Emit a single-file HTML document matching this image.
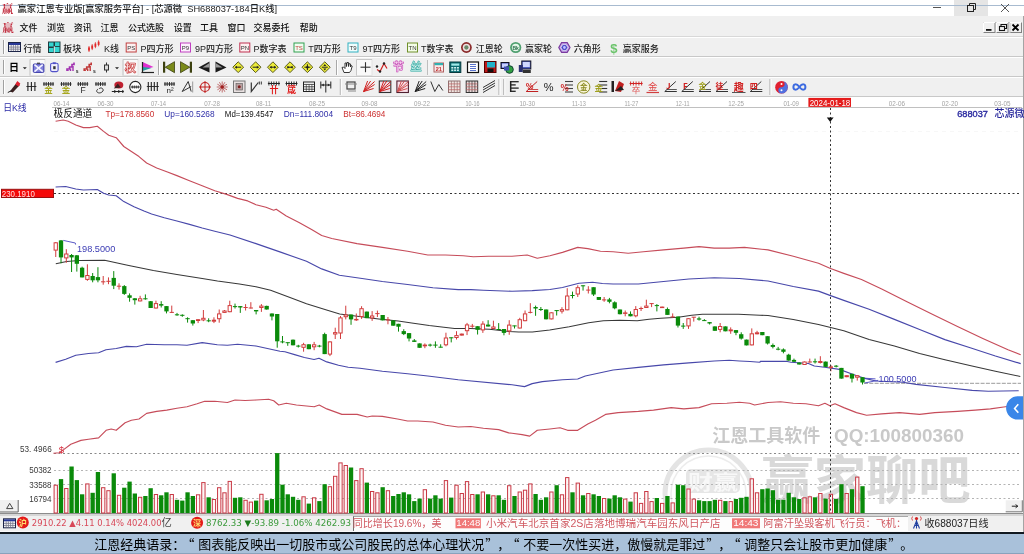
<!DOCTYPE html><html><head><meta charset="utf-8"><style>
*{margin:0;padding:0;box-sizing:border-box}
html,body{width:1024px;height:554px;overflow:hidden;background:#fff}
body{position:relative;font-family:"Liberation Sans","Noto Sans CJK SC",sans-serif}
.t{position:absolute;white-space:nowrap;line-height:1}
svg{position:absolute;left:0;top:0}
</style></head><body>
<div style="position:absolute;left:0px;top:0px;width:1024px;height:16px;background:#fff"></div>
<div style="position:absolute;left:954px;top:0px;width:34px;height:16px;background:#e5e5e5"></div>
<div style="position:absolute;left:0px;top:5px;width:1024px;height:1px;background:#a8bbd0"></div>
<div style="position:absolute;left:0px;top:16px;width:1024px;height:21px;background:#f0f0f0"></div>
<div style="position:absolute;left:0px;top:36px;width:1024px;height:1px;background:#d8d8d8"></div>
<div style="position:absolute;left:0px;top:37px;width:1024px;height:20px;background:#f0f0f0;border-top:1px solid #fff;border-bottom:1px solid #c8c8c8"></div>
<div style="position:absolute;left:3px;top:40px;width:2px;height:14px;border-left:1px solid #a0a0a0;border-right:1px solid #fff"></div>
<div style="position:absolute;left:0px;top:57px;width:1024px;height:20px;background:#f0f0f0;border-top:1px solid #fff;border-bottom:1px solid #c8c8c8"></div>
<div style="position:absolute;left:3px;top:60px;width:2px;height:14px;border-left:1px solid #a0a0a0;border-right:1px solid #fff"></div>
<div style="position:absolute;left:0px;top:77px;width:1024px;height:20px;background:#f0f0f0;border-top:1px solid #fff;border-bottom:1px solid #c8c8c8"></div>
<div style="position:absolute;left:3px;top:80px;width:2px;height:14px;border-left:1px solid #a0a0a0;border-right:1px solid #fff"></div>
<div style="position:absolute;left:0px;top:97px;width:1024px;height:418px;background:#fff"></div>
<div style="position:absolute;left:52px;top:107px;width:970px;height:1px;background:#c0c0c0"></div>
<div style="position:absolute;left:0px;top:513px;width:1024px;height:1px;background:#8c8c8c"></div>
<div style="position:absolute;left:0px;top:514px;width:1024px;height:2px;background:#d6d6d6"></div>
<div style="position:absolute;left:0px;top:516px;width:1024px;height:16px;background:#f0f0f0"></div>
<div style="position:absolute;left:0px;top:531px;width:1024px;height:1px;background:#fafafa"></div>
<div style="position:absolute;left:0px;top:532px;width:1024px;height:2px;background:#101820"></div>
<div style="position:absolute;left:0px;top:534px;width:1024px;height:20px;background:#a9c1da"></div>
<div style="position:absolute;left:0px;top:553px;width:1024px;height:1px;background:#8aa2bc"></div>
<div style="position:absolute;left:353px;top:516.3px;width:555px;height:14.7px;background:#fdfdfd;border-left:1px solid #707070;border-top:1px solid #a8a8a8"></div>
<svg width="1024" height="554" viewBox="0 0 1024 554">
<clipPath id="cc"><rect x="0" y="108" width="1022" height="405"/></clipPath>
<g clip-path="url(#cc)"><circle cx="708.5" cy="493.5" r="43.5" fill="none" stroke="#e4e4e4" stroke-width="5"/>
<circle cx="708.5" cy="493.5" r="37.5" fill="none" stroke="#ececec" stroke-width="1.5"/></g>
<rect x="686" y="469" width="54" height="24" rx="5" fill="#e6e6e6"/>
<text x="713" y="490" font-size="20" fill="#f8f8f8" font-weight="bold" font-family='"Noto Sans CJK SC",sans-serif' text-anchor="middle" textLength="50" lengthAdjust="spacingAndGlyphs">财赢</text>
<text x="712.3" y="442.3" font-size="17.8" fill="#c9c9c9" font-weight="bold" font-family='"Noto Sans CJK SC",sans-serif' textLength="108" lengthAdjust="spacingAndGlyphs">江恩工具软件</text>
<text x="834" y="442.3" font-size="18" fill="#c9c9c9" font-weight="bold" font-family='"Liberation Sans",sans-serif' textLength="130" lengthAdjust="spacingAndGlyphs">QQ:100800360</text>
<text x="761.5" y="499" font-size="52" fill="#d9d9d9" font-weight="bold" font-family='"Noto Sans CJK SC",sans-serif' textLength="209" lengthAdjust="spacingAndGlyphs">赢家聊吧</text>
<line x1="54" y1="453.5" x2="1021" y2="453.5" stroke="#8a8a8a" stroke-width="1" stroke-dasharray="2 2.5"/>
<line x1="54" y1="131.5" x2="1021" y2="131.5" stroke="#f7f7f7" stroke-width="1" stroke-dasharray="4 4"/>
<line x1="54" y1="470.5" x2="1021" y2="470.5" stroke="#b4b4b4" stroke-width="1" stroke-dasharray="2 2.5"/>
<line x1="54" y1="484.5" x2="1021" y2="484.5" stroke="#b4b4b4" stroke-width="1" stroke-dasharray="2 2.5"/>
<line x1="54" y1="498.5" x2="1021" y2="498.5" stroke="#b4b4b4" stroke-width="1" stroke-dasharray="2 2.5"/>
<line x1="864" y1="383.3" x2="1021" y2="383.3" stroke="#9a9a9a" stroke-width="1" stroke-dasharray="4 1.3"/>
<line x1="54" y1="193.5" x2="1021" y2="193.5" stroke="#333" stroke-width="1" stroke-dasharray="2 2.5"/>
<rect x="54.10" y="485.2" width="3.3" height="27.8" fill="#fff4f4" fill-opacity="0.75" stroke="#c83844" stroke-width="1"/>
<rect x="58.87" y="479.1" width="4.3" height="33.9" fill="#0a8a0a"/>
<rect x="64.65" y="488.5" width="3.3" height="24.5" fill="#fff4f4" fill-opacity="0.75" stroke="#c83844" stroke-width="1"/>
<rect x="69.42" y="466.5" width="4.3" height="46.5" fill="#0a8a0a"/>
<rect x="74.69" y="480.1" width="4.3" height="32.9" fill="#0a8a0a"/>
<rect x="79.97" y="494.3" width="4.3" height="18.7" fill="#0a8a0a"/>
<rect x="85.74" y="483.9" width="3.3" height="29.1" fill="#fff4f4" fill-opacity="0.75" stroke="#c83844" stroke-width="1"/>
<rect x="90.51" y="492.8" width="4.3" height="20.2" fill="#0a8a0a"/>
<rect x="95.78" y="472.0" width="4.3" height="41.0" fill="#0a8a0a"/>
<rect x="101.56" y="487.7" width="3.3" height="25.3" fill="#fff4f4" fill-opacity="0.75" stroke="#c83844" stroke-width="1"/>
<rect x="106.83" y="490.7" width="3.3" height="22.3" fill="#fff4f4" fill-opacity="0.75" stroke="#c83844" stroke-width="1"/>
<rect x="111.60" y="473.3" width="4.3" height="39.7" fill="#0a8a0a"/>
<rect x="117.38" y="495.3" width="3.3" height="17.7" fill="#fff4f4" fill-opacity="0.75" stroke="#c83844" stroke-width="1"/>
<rect x="122.15" y="487.7" width="4.3" height="25.3" fill="#0a8a0a"/>
<rect x="127.42" y="481.6" width="4.3" height="31.4" fill="#0a8a0a"/>
<rect x="132.69" y="493.5" width="4.3" height="19.5" fill="#0a8a0a"/>
<rect x="138.47" y="497.3" width="3.3" height="15.7" fill="#fff4f4" fill-opacity="0.75" stroke="#c83844" stroke-width="1"/>
<rect x="143.24" y="496.0" width="4.3" height="17.0" fill="#0a8a0a"/>
<rect x="148.51" y="488.2" width="4.3" height="24.8" fill="#0a8a0a"/>
<rect x="154.29" y="494.5" width="3.3" height="18.5" fill="#fff4f4" fill-opacity="0.75" stroke="#c83844" stroke-width="1"/>
<rect x="159.06" y="495.3" width="4.3" height="17.7" fill="#0a8a0a"/>
<rect x="164.33" y="492.3" width="4.3" height="20.7" fill="#0a8a0a"/>
<rect x="170.11" y="494.5" width="3.3" height="18.5" fill="#fff4f4" fill-opacity="0.75" stroke="#c83844" stroke-width="1"/>
<rect x="174.88" y="499.8" width="4.3" height="13.2" fill="#0a8a0a"/>
<rect x="180.15" y="500.6" width="4.3" height="12.4" fill="#0a8a0a"/>
<rect x="185.42" y="492.3" width="4.3" height="20.7" fill="#0a8a0a"/>
<rect x="190.70" y="496.0" width="4.3" height="17.0" fill="#0a8a0a"/>
<rect x="196.47" y="494.8" width="3.3" height="18.2" fill="#fff4f4" fill-opacity="0.75" stroke="#c83844" stroke-width="1"/>
<rect x="201.74" y="482.6" width="3.3" height="30.4" fill="#fff4f4" fill-opacity="0.75" stroke="#c83844" stroke-width="1"/>
<rect x="206.52" y="497.3" width="4.3" height="15.7" fill="#0a8a0a"/>
<rect x="212.29" y="499.5" width="3.3" height="13.5" fill="#fff4f4" fill-opacity="0.75" stroke="#c83844" stroke-width="1"/>
<rect x="217.56" y="487.7" width="3.3" height="25.3" fill="#fff4f4" fill-opacity="0.75" stroke="#c83844" stroke-width="1"/>
<rect x="222.84" y="492.8" width="3.3" height="20.2" fill="#fff4f4" fill-opacity="0.75" stroke="#c83844" stroke-width="1"/>
<rect x="228.11" y="481.4" width="3.3" height="31.6" fill="#fff4f4" fill-opacity="0.75" stroke="#c83844" stroke-width="1"/>
<rect x="232.88" y="497.8" width="4.3" height="15.2" fill="#0a8a0a"/>
<rect x="238.15" y="497.3" width="4.3" height="15.7" fill="#0a8a0a"/>
<rect x="243.93" y="500.3" width="3.3" height="12.7" fill="#fff4f4" fill-opacity="0.75" stroke="#c83844" stroke-width="1"/>
<rect x="249.20" y="502.1" width="3.3" height="10.9" fill="#fff4f4" fill-opacity="0.75" stroke="#c83844" stroke-width="1"/>
<rect x="253.97" y="500.6" width="4.3" height="12.4" fill="#0a8a0a"/>
<rect x="259.75" y="494.3" width="3.3" height="18.7" fill="#fff4f4" fill-opacity="0.75" stroke="#c83844" stroke-width="1"/>
<rect x="264.52" y="500.3" width="4.3" height="12.7" fill="#0a8a0a"/>
<rect x="269.79" y="499.0" width="4.3" height="14.0" fill="#0a8a0a"/>
<rect x="275.07" y="453.1" width="4.3" height="59.9" fill="#0a8a0a"/>
<rect x="280.34" y="484.7" width="4.3" height="28.3" fill="#0a8a0a"/>
<rect x="285.61" y="494.3" width="4.3" height="18.7" fill="#0a8a0a"/>
<rect x="290.88" y="496.8" width="4.3" height="16.2" fill="#0a8a0a"/>
<rect x="296.16" y="499.8" width="4.3" height="13.2" fill="#0a8a0a"/>
<rect x="301.93" y="496.8" width="3.3" height="16.2" fill="#fff4f4" fill-opacity="0.75" stroke="#c83844" stroke-width="1"/>
<rect x="306.70" y="503.6" width="4.3" height="9.4" fill="#0a8a0a"/>
<rect x="312.48" y="497.8" width="3.3" height="15.2" fill="#fff4f4" fill-opacity="0.75" stroke="#c83844" stroke-width="1"/>
<rect x="317.25" y="501.1" width="4.3" height="11.9" fill="#0a8a0a"/>
<rect x="322.52" y="484.2" width="4.3" height="28.8" fill="#0a8a0a"/>
<rect x="328.30" y="486.7" width="3.3" height="26.3" fill="#fff4f4" fill-opacity="0.75" stroke="#c83844" stroke-width="1"/>
<rect x="333.57" y="476.3" width="3.3" height="36.7" fill="#fff4f4" fill-opacity="0.75" stroke="#c83844" stroke-width="1"/>
<rect x="338.84" y="462.9" width="3.3" height="50.1" fill="#fff4f4" fill-opacity="0.75" stroke="#c83844" stroke-width="1"/>
<rect x="344.12" y="465.5" width="3.3" height="47.5" fill="#fff4f4" fill-opacity="0.75" stroke="#c83844" stroke-width="1"/>
<rect x="348.89" y="467.5" width="4.3" height="45.5" fill="#0a8a0a"/>
<rect x="354.66" y="480.6" width="3.3" height="32.4" fill="#fff4f4" fill-opacity="0.75" stroke="#c83844" stroke-width="1"/>
<rect x="359.93" y="468.7" width="3.3" height="44.3" fill="#fff4f4" fill-opacity="0.75" stroke="#c83844" stroke-width="1"/>
<rect x="364.71" y="482.6" width="4.3" height="30.4" fill="#0a8a0a"/>
<rect x="370.48" y="491.5" width="3.3" height="21.5" fill="#fff4f4" fill-opacity="0.75" stroke="#c83844" stroke-width="1"/>
<rect x="375.75" y="492.8" width="3.3" height="20.2" fill="#fff4f4" fill-opacity="0.75" stroke="#c83844" stroke-width="1"/>
<rect x="380.53" y="487.2" width="4.3" height="25.8" fill="#0a8a0a"/>
<rect x="386.30" y="490.7" width="3.3" height="22.3" fill="#fff4f4" fill-opacity="0.75" stroke="#c83844" stroke-width="1"/>
<rect x="391.07" y="496.0" width="4.3" height="17.0" fill="#0a8a0a"/>
<rect x="396.35" y="494.0" width="4.3" height="19.0" fill="#0a8a0a"/>
<rect x="401.62" y="492.3" width="4.3" height="20.7" fill="#0a8a0a"/>
<rect x="406.89" y="494.3" width="4.3" height="18.7" fill="#0a8a0a"/>
<rect x="412.16" y="501.1" width="4.3" height="11.9" fill="#0a8a0a"/>
<rect x="417.44" y="498.6" width="4.3" height="14.4" fill="#0a8a0a"/>
<rect x="423.21" y="489.7" width="3.3" height="23.3" fill="#fff4f4" fill-opacity="0.75" stroke="#c83844" stroke-width="1"/>
<rect x="427.98" y="498.6" width="4.3" height="14.4" fill="#0a8a0a"/>
<rect x="433.26" y="495.3" width="4.3" height="17.7" fill="#0a8a0a"/>
<rect x="438.53" y="498.6" width="4.3" height="14.4" fill="#0a8a0a"/>
<rect x="444.30" y="480.6" width="3.3" height="32.4" fill="#fff4f4" fill-opacity="0.75" stroke="#c83844" stroke-width="1"/>
<rect x="449.07" y="497.6" width="4.3" height="15.4" fill="#0a8a0a"/>
<rect x="454.85" y="485.2" width="3.3" height="27.8" fill="#fff4f4" fill-opacity="0.75" stroke="#c83844" stroke-width="1"/>
<rect x="460.12" y="493.5" width="3.3" height="19.5" fill="#fff4f4" fill-opacity="0.75" stroke="#c83844" stroke-width="1"/>
<rect x="465.39" y="481.6" width="3.3" height="31.4" fill="#fff4f4" fill-opacity="0.75" stroke="#c83844" stroke-width="1"/>
<rect x="470.67" y="494.5" width="3.3" height="18.5" fill="#fff4f4" fill-opacity="0.75" stroke="#c83844" stroke-width="1"/>
<rect x="475.44" y="494.3" width="4.3" height="18.7" fill="#0a8a0a"/>
<rect x="481.21" y="492.0" width="3.3" height="21.0" fill="#fff4f4" fill-opacity="0.75" stroke="#c83844" stroke-width="1"/>
<rect x="485.99" y="494.3" width="4.3" height="18.7" fill="#0a8a0a"/>
<rect x="491.76" y="495.8" width="3.3" height="17.2" fill="#fff4f4" fill-opacity="0.75" stroke="#c83844" stroke-width="1"/>
<rect x="496.53" y="495.3" width="4.3" height="17.7" fill="#0a8a0a"/>
<rect x="501.81" y="499.8" width="4.3" height="13.2" fill="#0a8a0a"/>
<rect x="507.58" y="485.7" width="3.3" height="27.3" fill="#fff4f4" fill-opacity="0.75" stroke="#c83844" stroke-width="1"/>
<rect x="512.35" y="496.0" width="4.3" height="17.0" fill="#0a8a0a"/>
<rect x="518.12" y="492.0" width="3.3" height="21.0" fill="#fff4f4" fill-opacity="0.75" stroke="#c83844" stroke-width="1"/>
<rect x="523.40" y="490.2" width="3.3" height="22.8" fill="#fff4f4" fill-opacity="0.75" stroke="#c83844" stroke-width="1"/>
<rect x="528.67" y="483.9" width="3.3" height="29.1" fill="#fff4f4" fill-opacity="0.75" stroke="#c83844" stroke-width="1"/>
<rect x="533.44" y="494.0" width="4.3" height="19.0" fill="#0a8a0a"/>
<rect x="538.72" y="499.8" width="4.3" height="13.2" fill="#0a8a0a"/>
<rect x="543.99" y="497.3" width="4.3" height="15.7" fill="#0a8a0a"/>
<rect x="549.76" y="492.0" width="3.3" height="21.0" fill="#fff4f4" fill-opacity="0.75" stroke="#c83844" stroke-width="1"/>
<rect x="554.53" y="485.2" width="4.3" height="27.8" fill="#0a8a0a"/>
<rect x="560.31" y="494.8" width="3.3" height="18.2" fill="#fff4f4" fill-opacity="0.75" stroke="#c83844" stroke-width="1"/>
<rect x="565.58" y="477.6" width="3.3" height="35.4" fill="#fff4f4" fill-opacity="0.75" stroke="#c83844" stroke-width="1"/>
<rect x="570.35" y="492.3" width="4.3" height="20.7" fill="#0a8a0a"/>
<rect x="576.13" y="483.1" width="3.3" height="29.9" fill="#fff4f4" fill-opacity="0.75" stroke="#c83844" stroke-width="1"/>
<rect x="580.90" y="495.3" width="4.3" height="17.7" fill="#0a8a0a"/>
<rect x="586.67" y="493.5" width="3.3" height="19.5" fill="#fff4f4" fill-opacity="0.75" stroke="#c83844" stroke-width="1"/>
<rect x="591.45" y="494.3" width="4.3" height="18.7" fill="#0a8a0a"/>
<rect x="596.72" y="496.0" width="4.3" height="17.0" fill="#0a8a0a"/>
<rect x="602.49" y="498.5" width="3.3" height="14.5" fill="#fff4f4" fill-opacity="0.75" stroke="#c83844" stroke-width="1"/>
<rect x="607.26" y="498.6" width="4.3" height="14.4" fill="#0a8a0a"/>
<rect x="612.54" y="495.3" width="4.3" height="17.7" fill="#0a8a0a"/>
<rect x="617.81" y="497.3" width="4.3" height="15.7" fill="#0a8a0a"/>
<rect x="623.58" y="499.1" width="3.3" height="13.9" fill="#fff4f4" fill-opacity="0.75" stroke="#c83844" stroke-width="1"/>
<rect x="628.36" y="501.6" width="4.3" height="11.4" fill="#0a8a0a"/>
<rect x="634.13" y="492.8" width="3.3" height="20.2" fill="#fff4f4" fill-opacity="0.75" stroke="#c83844" stroke-width="1"/>
<rect x="639.40" y="503.4" width="3.3" height="9.6" fill="#fff4f4" fill-opacity="0.75" stroke="#c83844" stroke-width="1"/>
<rect x="644.68" y="491.5" width="3.3" height="21.5" fill="#fff4f4" fill-opacity="0.75" stroke="#c83844" stroke-width="1"/>
<rect x="649.95" y="501.6" width="3.3" height="11.4" fill="#fff4f4" fill-opacity="0.75" stroke="#c83844" stroke-width="1"/>
<rect x="654.72" y="498.0" width="4.3" height="15.0" fill="#0a8a0a"/>
<rect x="660.50" y="503.4" width="3.3" height="9.6" fill="#fff4f4" fill-opacity="0.75" stroke="#c83844" stroke-width="1"/>
<rect x="665.27" y="496.0" width="4.3" height="17.0" fill="#0a8a0a"/>
<rect x="671.04" y="502.9" width="3.3" height="10.1" fill="#fff4f4" fill-opacity="0.75" stroke="#c83844" stroke-width="1"/>
<rect x="675.81" y="484.7" width="4.3" height="28.3" fill="#0a8a0a"/>
<rect x="681.09" y="485.2" width="4.3" height="27.8" fill="#0a8a0a"/>
<rect x="686.86" y="489.0" width="3.3" height="24.0" fill="#fff4f4" fill-opacity="0.75" stroke="#c83844" stroke-width="1"/>
<rect x="692.13" y="499.1" width="3.3" height="13.9" fill="#fff4f4" fill-opacity="0.75" stroke="#c83844" stroke-width="1"/>
<rect x="696.91" y="500.3" width="4.3" height="12.7" fill="#0a8a0a"/>
<rect x="702.18" y="501.1" width="4.3" height="11.9" fill="#0a8a0a"/>
<rect x="707.45" y="501.1" width="4.3" height="11.9" fill="#0a8a0a"/>
<rect x="712.73" y="499.8" width="4.3" height="13.2" fill="#0a8a0a"/>
<rect x="718.50" y="500.3" width="3.3" height="12.7" fill="#fff4f4" fill-opacity="0.75" stroke="#c83844" stroke-width="1"/>
<rect x="723.27" y="501.1" width="4.3" height="11.9" fill="#0a8a0a"/>
<rect x="729.04" y="501.6" width="3.3" height="11.4" fill="#fff4f4" fill-opacity="0.75" stroke="#c83844" stroke-width="1"/>
<rect x="733.82" y="499.0" width="4.3" height="14.0" fill="#0a8a0a"/>
<rect x="739.09" y="497.8" width="4.3" height="15.2" fill="#0a8a0a"/>
<rect x="744.36" y="496.8" width="4.3" height="16.2" fill="#0a8a0a"/>
<rect x="750.14" y="478.8" width="3.3" height="34.2" fill="#fff4f4" fill-opacity="0.75" stroke="#c83844" stroke-width="1"/>
<rect x="755.41" y="492.8" width="3.3" height="20.2" fill="#fff4f4" fill-opacity="0.75" stroke="#c83844" stroke-width="1"/>
<rect x="760.18" y="489.2" width="4.3" height="23.8" fill="#0a8a0a"/>
<rect x="765.45" y="488.5" width="4.3" height="24.5" fill="#0a8a0a"/>
<rect x="770.73" y="490.2" width="4.3" height="22.8" fill="#0a8a0a"/>
<rect x="776.00" y="499.8" width="4.3" height="13.2" fill="#0a8a0a"/>
<rect x="781.27" y="499.8" width="4.3" height="13.2" fill="#0a8a0a"/>
<rect x="786.55" y="492.8" width="4.3" height="20.2" fill="#0a8a0a"/>
<rect x="791.82" y="497.3" width="4.3" height="15.7" fill="#0a8a0a"/>
<rect x="797.09" y="499.0" width="4.3" height="14.0" fill="#0a8a0a"/>
<rect x="802.87" y="497.8" width="3.3" height="15.2" fill="#fff4f4" fill-opacity="0.75" stroke="#c83844" stroke-width="1"/>
<rect x="808.14" y="496.8" width="3.3" height="16.2" fill="#fff4f4" fill-opacity="0.75" stroke="#c83844" stroke-width="1"/>
<rect x="812.91" y="497.3" width="4.3" height="15.7" fill="#0a8a0a"/>
<rect x="818.68" y="493.5" width="3.3" height="19.5" fill="#fff4f4" fill-opacity="0.75" stroke="#c83844" stroke-width="1"/>
<rect x="823.46" y="498.6" width="4.3" height="14.4" fill="#0a8a0a"/>
<rect x="829.23" y="494.3" width="3.3" height="18.7" fill="#fff4f4" fill-opacity="0.75" stroke="#c83844" stroke-width="1"/>
<rect x="834.00" y="499.0" width="4.3" height="14.0" fill="#0a8a0a"/>
<rect x="839.28" y="484.2" width="4.3" height="28.8" fill="#0a8a0a"/>
<rect x="845.05" y="493.5" width="3.3" height="19.5" fill="#fff4f4" fill-opacity="0.75" stroke="#c83844" stroke-width="1"/>
<rect x="849.82" y="489.2" width="4.3" height="23.8" fill="#0a8a0a"/>
<rect x="855.60" y="477.1" width="3.3" height="35.9" fill="#fff4f4" fill-opacity="0.75" stroke="#c83844" stroke-width="1"/>
<rect x="860.37" y="486.2" width="4.3" height="26.8" fill="#0a8a0a"/>
<polyline points="55.6,121.3 63.2,120.0 68.2,121.3 75.8,125.0 83.4,127.6 89.7,127.6 97.3,126.3 103.6,131.4 108.7,135.2 116.2,137.7 123.8,146.5 131.4,151.6 139.0,156.6 146.6,163.0 156.7,168.0 166.8,171.8 176.9,175.6 189.5,180.7 202.2,185.7 214.8,190.8 227.4,194.6 237.6,198.4 247.7,200.9 256.0,204.7 266.0,207.2 273.7,210.2 276.2,209.2 286.3,216.0 299.0,222.4 311.6,229.4 321.7,235.5 331.8,238.5 357.0,243.6 382.4,247.4 407.6,251.2 427.8,255.0 445.5,255.0 463.2,255.7 473.3,256.7 488.5,256.2 512.0,256.2 527.2,255.0 537.3,258.2 549.9,255.7 562.5,252.4 577.7,247.4 587.8,248.6 600.5,251.2 613.1,251.7 628.2,253.2 643.4,251.7 663.6,249.9 683.8,248.1 699.0,246.6 714.2,248.1 729.3,248.1 744.5,247.4 768.0,249.9 793.3,256.2 818.5,263.3 829.9,268.3 843.8,273.4 861.5,279.5 881.7,289.0 907.0,301.7 932.3,314.3 957.5,326.5 982.8,338.4 1008.0,349.7 1020.7,354.8" fill="none" stroke="#c64c5a" stroke-width="1.15" stroke-linejoin="round"/>
<polyline points="55.6,187.0 65.7,186.5 75.8,189.0 83.4,190.0 97.3,189.5 103.6,193.3 108.7,195.0 116.2,195.8 123.8,201.6 134.0,206.7 144.0,211.0 151.6,214.0 164.3,217.8 176.9,221.0 189.5,224.4 202.2,228.0 214.8,231.2 230.0,235.0 256.0,243.6 281.3,252.4 306.5,261.3 321.7,268.9 339.4,275.2 362.1,278.5 382.4,281.5 407.6,284.5 432.9,287.8 458.2,289.6 470.8,289.6 483.4,290.3 512.0,291.3 532.2,290.6 549.9,289.5 562.5,287.5 569.2,285.7 579.0,283.3 592.6,282.3 602.4,283.5 613.1,284.0 638.4,284.0 663.6,281.5 688.9,279.0 714.2,277.7 739.4,278.5 768.0,281.0 793.3,286.5 818.5,291.1 829.9,295.4 843.8,300.4 869.1,309.3 894.4,319.4 919.6,329.5 944.9,339.6 970.2,347.7 995.4,356.0 1020.7,363.6" fill="none" stroke="#4848aa" stroke-width="1.15" stroke-linejoin="round"/>
<polyline points="55.8,263.8 60.7,262.8 66.6,261.5 79.2,260.6 104.6,260.2 110.4,261.5 126.4,265.0 130.0,265.8 153.4,270.6 176.9,274.5 202.2,278.4 217.5,281.0 239.4,283.9 256.0,286.8 270.6,290.2 290.0,297.5 306.5,303.7 328.2,310.6 339.7,314.0 359.2,316.5 378.7,318.9 398.2,320.9 411.7,322.9 429.2,325.5 443.9,327.3 454.6,328.5 470.0,328.5 489.5,329.2 509.0,331.4 518.7,331.9 532.4,331.9 549.7,330.0 569.2,326.7 588.7,322.8 603.4,320.8 620.0,320.3 637.3,320.8 649.0,319.2 660.7,318.3 678.2,317.3 691.7,315.2 702.4,314.3 738.5,314.3 760.0,315.2 768.0,315.6 793.3,319.4 818.5,324.5 843.8,330.8 869.1,339.6 894.4,346.0 919.6,353.5 944.9,359.8 972.0,366.0 995.4,371.2 1020.3,376.4" fill="none" stroke="#383838" stroke-width="1.05" stroke-linejoin="round"/>
<polyline points="55.6,362.4 65.7,359.3 75.8,355.3 88.5,353.5 98.6,352.8 106.0,349.7 116.2,348.5 126.4,346.4 136.5,346.7 146.6,344.2 164.3,344.7 176.9,344.7 187.0,345.2 202.2,342.6 217.3,344.7 227.4,345.2 237.6,344.2 256.0,346.0 280.0,351.2 284.9,351.7 294.6,354.6 304.4,357.5 314.1,359.5 319.0,358.2 326.8,361.9 338.5,365.3 348.2,367.3 360.0,368.2 382.4,371.2 407.6,373.7 427.8,376.0 458.2,379.8 512.0,384.8 524.6,386.6 532.2,383.6 542.3,381.6 562.5,379.8 577.7,379.0 585.3,376.0 613.1,370.0 638.4,367.4 663.6,364.9 688.9,362.9 714.2,361.0 729.3,360.3 739.4,361.0 750.0,361.5 759.7,362.2 760.7,361.3 786.0,361.3 791.0,362.2 808.5,363.5 814.3,366.0 824.7,367.2 839.4,369.4 854.0,374.7 863.7,378.1 876.0,381.0 902.8,382.3 916.0,384.4 944.9,387.5 972.2,390.4 988.2,391.2 1018.7,390.7" fill="none" stroke="#4848aa" stroke-width="1.15" stroke-linejoin="round"/>
<polyline points="53.4,453.3 59.3,452.8 64.0,449.4 70.8,444.2 80.9,440.4 88.5,439.2 98.6,437.9 106.1,430.3 111.2,429.0 116.2,430.3 125.1,422.8 131.4,420.2 139.0,419.0 146.6,413.4 156.7,411.4 166.8,410.1 176.9,408.3 187.0,406.8 197.1,403.8 204.7,401.3 214.8,401.3 227.4,402.5 235.0,400.0 245.1,400.5 256.0,400.0 268.6,399.2 273.7,400.8 278.7,405.0 286.3,403.3 296.4,405.0 314.1,406.8 319.2,405.0 326.8,408.9 341.9,414.4 357.1,414.4 367.2,417.0 372.2,416.0 382.4,416.4 397.5,419.0 407.6,421.0 417.7,421.0 432.9,422.0 445.5,425.3 458.2,427.0 470.8,426.5 483.4,428.3 498.6,429.6 508.7,432.9 512.0,433.2 522.1,434.6 529.7,436.1 537.3,430.3 549.9,429.0 560.0,427.8 567.6,430.3 577.7,430.3 587.8,424.0 595.4,420.2 605.5,414.4 618.1,412.6 638.4,411.4 653.5,410.1 671.2,407.6 683.8,408.9 699.0,407.6 711.6,403.8 726.8,403.3 739.4,402.3 749.6,403.3 754.6,405.0 768.0,402.5 780.6,401.8 793.3,403.3 805.9,403.8 818.5,405.8 824.9,403.3 829.9,405.8 835.0,403.8 843.8,407.6 856.5,412.6 866.6,415.2 881.7,413.9 899.4,412.6 919.6,414.4 934.8,412.6 957.5,411.4 975.2,410.1 990.4,408.9 1005.5,406.8 1020.0,404.5" fill="none" stroke="#c64c5a" stroke-width="1.15" stroke-linejoin="round"/>
<line x1="55.75" y1="242.0" x2="55.75" y2="257.0" stroke="#d23c3c" stroke-width="1"/>
<rect x="54.10" y="242.8" width="3.3" height="7.3" fill="#fff" stroke="#d23c3c" stroke-width="1"/>
<line x1="61.02" y1="240.0" x2="61.02" y2="263.3" stroke="#0a8a0a" stroke-width="1"/>
<rect x="58.87" y="240.4" width="4.3" height="17.0" fill="#0a8a0a"/>
<line x1="66.30" y1="249.2" x2="66.30" y2="262.8" stroke="#d23c3c" stroke-width="1"/>
<rect x="64.65" y="254.0" width="3.3" height="3.9" fill="#fff" stroke="#d23c3c" stroke-width="1"/>
<line x1="71.57" y1="254.0" x2="71.57" y2="272.0" stroke="#0a8a0a" stroke-width="1"/>
<rect x="69.42" y="255.0" width="4.3" height="2.4" fill="#0a8a0a"/>
<line x1="76.84" y1="255.0" x2="76.84" y2="271.6" stroke="#0a8a0a" stroke-width="1"/>
<rect x="74.69" y="255.3" width="4.3" height="8.5" fill="#0a8a0a"/>
<line x1="82.12" y1="266.7" x2="82.12" y2="277.4" stroke="#0a8a0a" stroke-width="1"/>
<rect x="79.97" y="267.7" width="4.3" height="9.7" fill="#0a8a0a"/>
<line x1="87.39" y1="264.3" x2="87.39" y2="280.8" stroke="#d23c3c" stroke-width="1"/>
<rect x="85.74" y="275.5" width="3.3" height="3.9" fill="#fff" stroke="#d23c3c" stroke-width="1"/>
<line x1="92.66" y1="273.0" x2="92.66" y2="282.3" stroke="#0a8a0a" stroke-width="1"/>
<rect x="90.51" y="276.0" width="4.3" height="4.3" fill="#0a8a0a"/>
<line x1="97.93" y1="267.2" x2="97.93" y2="282.3" stroke="#0a8a0a" stroke-width="1"/>
<rect x="95.78" y="277.1" width="4.3" height="3.2" fill="#0a8a0a"/>
<line x1="103.21" y1="276.0" x2="103.21" y2="284.7" stroke="#d23c3c" stroke-width="1"/>
<line x1="101.06" y1="281.8" x2="105.36" y2="281.8" stroke="#d23c3c" stroke-width="1"/>
<line x1="108.48" y1="277.4" x2="108.48" y2="284.2" stroke="#d23c3c" stroke-width="1"/>
<line x1="106.33" y1="281.3" x2="110.63" y2="281.3" stroke="#d23c3c" stroke-width="1"/>
<line x1="113.75" y1="271.1" x2="113.75" y2="289.1" stroke="#0a8a0a" stroke-width="1"/>
<rect x="111.60" y="277.9" width="4.3" height="7.8" fill="#0a8a0a"/>
<line x1="119.03" y1="283.3" x2="119.03" y2="289.6" stroke="#d23c3c" stroke-width="1"/>
<line x1="116.88" y1="286.2" x2="121.18" y2="286.2" stroke="#d23c3c" stroke-width="1"/>
<line x1="124.30" y1="285.1" x2="124.30" y2="294.9" stroke="#0a8a0a" stroke-width="1"/>
<rect x="122.15" y="286.1" width="4.3" height="7.8" fill="#0a8a0a"/>
<line x1="129.57" y1="293.4" x2="129.57" y2="301.7" stroke="#0a8a0a" stroke-width="1"/>
<rect x="127.42" y="295.3" width="4.3" height="2.5" fill="#0a8a0a"/>
<line x1="134.84" y1="298.0" x2="134.84" y2="304.6" stroke="#0a8a0a" stroke-width="1"/>
<rect x="132.69" y="298.3" width="4.3" height="1.9" fill="#0a8a0a"/>
<line x1="140.12" y1="295.8" x2="140.12" y2="301.4" stroke="#d23c3c" stroke-width="1"/>
<rect x="138.47" y="298.8" width="3.3" height="2.1" fill="#fff" stroke="#d23c3c" stroke-width="1"/>
<line x1="145.39" y1="294.4" x2="145.39" y2="299.7" stroke="#0a8a0a" stroke-width="1"/>
<line x1="143.24" y1="298.8" x2="147.54" y2="298.8" stroke="#0a8a0a" stroke-width="1"/>
<line x1="150.66" y1="301.0" x2="150.66" y2="308.0" stroke="#0a8a0a" stroke-width="1"/>
<rect x="148.51" y="301.2" width="4.3" height="6.8" fill="#0a8a0a"/>
<line x1="155.94" y1="300.7" x2="155.94" y2="308.5" stroke="#d23c3c" stroke-width="1"/>
<rect x="154.29" y="303.6" width="3.3" height="4.4" fill="#fff" stroke="#d23c3c" stroke-width="1"/>
<line x1="161.21" y1="301.2" x2="161.21" y2="307.5" stroke="#0a8a0a" stroke-width="1"/>
<rect x="159.06" y="304.1" width="4.3" height="1.5" fill="#0a8a0a"/>
<line x1="166.48" y1="306.0" x2="166.48" y2="313.4" stroke="#0a8a0a" stroke-width="1"/>
<rect x="164.33" y="306.1" width="4.3" height="5.3" fill="#0a8a0a"/>
<line x1="171.76" y1="305.6" x2="171.76" y2="312.9" stroke="#d23c3c" stroke-width="1"/>
<line x1="169.61" y1="312.4" x2="173.91" y2="312.4" stroke="#d23c3c" stroke-width="1"/>
<line x1="177.03" y1="312.9" x2="177.03" y2="315.8" stroke="#0a8a0a" stroke-width="1"/>
<line x1="174.88" y1="314.8" x2="179.18" y2="314.8" stroke="#0a8a0a" stroke-width="1"/>
<line x1="182.30" y1="314.3" x2="182.30" y2="316.8" stroke="#0a8a0a" stroke-width="1"/>
<line x1="180.15" y1="315.3" x2="184.45" y2="315.3" stroke="#0a8a0a" stroke-width="1"/>
<line x1="187.57" y1="317.3" x2="187.57" y2="322.6" stroke="#0a8a0a" stroke-width="1"/>
<line x1="185.42" y1="318.7" x2="189.72" y2="318.7" stroke="#0a8a0a" stroke-width="1"/>
<line x1="192.85" y1="320.0" x2="192.85" y2="325.6" stroke="#0a8a0a" stroke-width="1"/>
<rect x="190.70" y="320.2" width="4.3" height="3.3" fill="#0a8a0a"/>
<line x1="198.12" y1="319.0" x2="198.12" y2="323.1" stroke="#d23c3c" stroke-width="1"/>
<rect x="196.47" y="319.7" width="3.3" height="0.8" fill="#fff" stroke="#d23c3c" stroke-width="1"/>
<line x1="203.39" y1="310.0" x2="203.39" y2="321.2" stroke="#d23c3c" stroke-width="1"/>
<rect x="201.74" y="318.3" width="3.3" height="1.6" fill="#fff" stroke="#d23c3c" stroke-width="1"/>
<line x1="208.67" y1="318.3" x2="208.67" y2="322.2" stroke="#0a8a0a" stroke-width="1"/>
<line x1="206.52" y1="320.8" x2="210.82" y2="320.8" stroke="#0a8a0a" stroke-width="1"/>
<line x1="213.94" y1="317.3" x2="213.94" y2="323.1" stroke="#d23c3c" stroke-width="1"/>
<rect x="212.29" y="320.2" width="3.3" height="1.0" fill="#fff" stroke="#d23c3c" stroke-width="1"/>
<line x1="219.21" y1="309.5" x2="219.21" y2="322.7" stroke="#d23c3c" stroke-width="1"/>
<rect x="217.56" y="313.9" width="3.3" height="4.8" fill="#fff" stroke="#d23c3c" stroke-width="1"/>
<line x1="224.49" y1="310.0" x2="224.49" y2="313.0" stroke="#d23c3c" stroke-width="1"/>
<rect x="222.84" y="311.0" width="3.3" height="1.4" fill="#fff" stroke="#d23c3c" stroke-width="1"/>
<line x1="229.76" y1="300.7" x2="229.76" y2="312.2" stroke="#d23c3c" stroke-width="1"/>
<rect x="228.11" y="305.6" width="3.3" height="6.1" fill="#fff" stroke="#d23c3c" stroke-width="1"/>
<line x1="235.03" y1="303.6" x2="235.03" y2="308.5" stroke="#0a8a0a" stroke-width="1"/>
<line x1="232.88" y1="306.6" x2="237.18" y2="306.6" stroke="#0a8a0a" stroke-width="1"/>
<line x1="240.30" y1="306.0" x2="240.30" y2="312.9" stroke="#0a8a0a" stroke-width="1"/>
<rect x="238.15" y="306.1" width="4.3" height="1.4" fill="#0a8a0a"/>
<line x1="245.58" y1="304.1" x2="245.58" y2="310.5" stroke="#d23c3c" stroke-width="1"/>
<line x1="243.43" y1="307.5" x2="247.73" y2="307.5" stroke="#d23c3c" stroke-width="1"/>
<line x1="250.85" y1="302.2" x2="250.85" y2="308.5" stroke="#d23c3c" stroke-width="1"/>
<line x1="248.70" y1="308.0" x2="253.00" y2="308.0" stroke="#d23c3c" stroke-width="1"/>
<line x1="256.12" y1="310.0" x2="256.12" y2="314.4" stroke="#0a8a0a" stroke-width="1"/>
<rect x="253.97" y="310.0" width="4.3" height="1.4" fill="#0a8a0a"/>
<line x1="261.40" y1="304.1" x2="261.40" y2="311.9" stroke="#d23c3c" stroke-width="1"/>
<rect x="259.75" y="306.1" width="3.3" height="1.4" fill="#fff" stroke="#d23c3c" stroke-width="1"/>
<line x1="266.67" y1="305.7" x2="266.67" y2="309.6" stroke="#0a8a0a" stroke-width="1"/>
<rect x="264.52" y="305.9" width="4.3" height="3.6" fill="#0a8a0a"/>
<line x1="271.94" y1="313.4" x2="271.94" y2="320.4" stroke="#0a8a0a" stroke-width="1"/>
<rect x="269.79" y="313.5" width="4.3" height="3.0" fill="#0a8a0a"/>
<line x1="277.22" y1="314.0" x2="277.22" y2="347.7" stroke="#0a8a0a" stroke-width="1"/>
<rect x="275.07" y="314.0" width="4.3" height="27.3" fill="#0a8a0a"/>
<line x1="282.49" y1="336.0" x2="282.49" y2="343.3" stroke="#0a8a0a" stroke-width="1"/>
<line x1="280.34" y1="341.9" x2="284.64" y2="341.9" stroke="#0a8a0a" stroke-width="1"/>
<line x1="287.76" y1="342.4" x2="287.76" y2="345.8" stroke="#0a8a0a" stroke-width="1"/>
<line x1="285.61" y1="342.7" x2="289.91" y2="342.7" stroke="#0a8a0a" stroke-width="1"/>
<line x1="293.03" y1="339.5" x2="293.03" y2="345.3" stroke="#0a8a0a" stroke-width="1"/>
<rect x="290.88" y="339.7" width="4.3" height="5.6" fill="#0a8a0a"/>
<line x1="298.31" y1="344.8" x2="298.31" y2="347.5" stroke="#0a8a0a" stroke-width="1"/>
<line x1="296.16" y1="346.1" x2="300.46" y2="346.1" stroke="#0a8a0a" stroke-width="1"/>
<line x1="303.58" y1="342.8" x2="303.58" y2="351.7" stroke="#d23c3c" stroke-width="1"/>
<rect x="301.93" y="344.7" width="3.3" height="2.6" fill="#fff" stroke="#d23c3c" stroke-width="1"/>
<line x1="308.85" y1="344.2" x2="308.85" y2="349.2" stroke="#0a8a0a" stroke-width="1"/>
<rect x="306.70" y="344.3" width="4.3" height="4.9" fill="#0a8a0a"/>
<line x1="314.13" y1="341.9" x2="314.13" y2="350.2" stroke="#d23c3c" stroke-width="1"/>
<rect x="312.48" y="344.8" width="3.3" height="2.0" fill="#fff" stroke="#d23c3c" stroke-width="1"/>
<line x1="319.40" y1="344.9" x2="319.40" y2="347.3" stroke="#0a8a0a" stroke-width="1"/>
<line x1="317.25" y1="346.1" x2="321.55" y2="346.1" stroke="#0a8a0a" stroke-width="1"/>
<line x1="324.67" y1="332.7" x2="324.67" y2="354.1" stroke="#0a8a0a" stroke-width="1"/>
<rect x="322.52" y="334.1" width="4.3" height="20.0" fill="#0a8a0a"/>
<line x1="329.95" y1="341.3" x2="329.95" y2="356.1" stroke="#d23c3c" stroke-width="1"/>
<rect x="328.30" y="341.9" width="3.3" height="12.2" fill="#fff" stroke="#d23c3c" stroke-width="1"/>
<line x1="335.22" y1="327.7" x2="335.22" y2="339.0" stroke="#d23c3c" stroke-width="1"/>
<rect x="333.57" y="332.6" width="3.3" height="1.4" fill="#fff" stroke="#d23c3c" stroke-width="1"/>
<line x1="340.49" y1="316.0" x2="340.49" y2="339.0" stroke="#d23c3c" stroke-width="1"/>
<rect x="338.84" y="317.9" width="3.3" height="15.1" fill="#fff" stroke="#d23c3c" stroke-width="1"/>
<line x1="345.76" y1="305.7" x2="345.76" y2="319.4" stroke="#d23c3c" stroke-width="1"/>
<rect x="344.12" y="315.0" width="3.3" height="1.7" fill="#fff" stroke="#d23c3c" stroke-width="1"/>
<line x1="351.04" y1="314.5" x2="351.04" y2="324.8" stroke="#0a8a0a" stroke-width="1"/>
<rect x="348.89" y="314.5" width="4.3" height="4.9" fill="#0a8a0a"/>
<line x1="356.31" y1="313.5" x2="356.31" y2="320.9" stroke="#d23c3c" stroke-width="1"/>
<rect x="354.66" y="319.4" width="3.3" height="0.5" fill="#fff" stroke="#d23c3c" stroke-width="1"/>
<line x1="361.58" y1="306.2" x2="361.58" y2="318.9" stroke="#d23c3c" stroke-width="1"/>
<rect x="359.93" y="308.7" width="3.3" height="7.8" fill="#fff" stroke="#d23c3c" stroke-width="1"/>
<line x1="366.86" y1="311.6" x2="366.86" y2="318.2" stroke="#0a8a0a" stroke-width="1"/>
<rect x="364.71" y="311.6" width="4.3" height="6.6" fill="#0a8a0a"/>
<line x1="372.13" y1="311.1" x2="372.13" y2="320.9" stroke="#d23c3c" stroke-width="1"/>
<rect x="370.48" y="316.0" width="3.3" height="1.9" fill="#fff" stroke="#d23c3c" stroke-width="1"/>
<line x1="377.40" y1="310.6" x2="377.40" y2="317.0" stroke="#d23c3c" stroke-width="1"/>
<line x1="375.25" y1="313.6" x2="379.55" y2="313.6" stroke="#d23c3c" stroke-width="1"/>
<line x1="382.68" y1="315.0" x2="382.68" y2="320.4" stroke="#0a8a0a" stroke-width="1"/>
<rect x="380.53" y="315.0" width="4.3" height="5.4" fill="#0a8a0a"/>
<line x1="387.95" y1="317.0" x2="387.95" y2="324.3" stroke="#d23c3c" stroke-width="1"/>
<line x1="385.80" y1="319.9" x2="390.10" y2="319.9" stroke="#d23c3c" stroke-width="1"/>
<line x1="393.22" y1="320.4" x2="393.22" y2="325.7" stroke="#0a8a0a" stroke-width="1"/>
<rect x="391.07" y="320.4" width="4.3" height="5.3" fill="#0a8a0a"/>
<line x1="398.50" y1="323.8" x2="398.50" y2="331.6" stroke="#0a8a0a" stroke-width="1"/>
<rect x="396.35" y="323.8" width="4.3" height="2.9" fill="#0a8a0a"/>
<line x1="403.77" y1="329.2" x2="403.77" y2="335.1" stroke="#0a8a0a" stroke-width="1"/>
<rect x="401.62" y="331.1" width="4.3" height="3.0" fill="#0a8a0a"/>
<line x1="409.04" y1="333.0" x2="409.04" y2="341.4" stroke="#0a8a0a" stroke-width="1"/>
<rect x="406.89" y="333.1" width="4.3" height="5.4" fill="#0a8a0a"/>
<line x1="414.31" y1="339.0" x2="414.31" y2="341.9" stroke="#0a8a0a" stroke-width="1"/>
<rect x="412.16" y="340.4" width="4.3" height="1.5" fill="#0a8a0a"/>
<line x1="419.59" y1="343.4" x2="419.59" y2="347.8" stroke="#0a8a0a" stroke-width="1"/>
<rect x="417.44" y="343.4" width="4.3" height="4.4" fill="#0a8a0a"/>
<line x1="424.86" y1="343.4" x2="424.86" y2="348.2" stroke="#d23c3c" stroke-width="1"/>
<rect x="423.21" y="345.1" width="3.3" height="0.7" fill="#fff" stroke="#d23c3c" stroke-width="1"/>
<line x1="430.13" y1="343.7" x2="430.13" y2="346.6" stroke="#0a8a0a" stroke-width="1"/>
<line x1="427.98" y1="345.1" x2="432.28" y2="345.1" stroke="#0a8a0a" stroke-width="1"/>
<line x1="435.41" y1="341.4" x2="435.41" y2="347.8" stroke="#0a8a0a" stroke-width="1"/>
<line x1="433.26" y1="345.1" x2="437.56" y2="345.1" stroke="#0a8a0a" stroke-width="1"/>
<line x1="440.68" y1="344.3" x2="440.68" y2="347.5" stroke="#0a8a0a" stroke-width="1"/>
<line x1="438.53" y1="347.2" x2="442.83" y2="347.2" stroke="#0a8a0a" stroke-width="1"/>
<line x1="445.95" y1="332.7" x2="445.95" y2="346.3" stroke="#d23c3c" stroke-width="1"/>
<rect x="444.30" y="338.0" width="3.3" height="6.8" fill="#fff" stroke="#d23c3c" stroke-width="1"/>
<line x1="451.22" y1="337.3" x2="451.22" y2="342.4" stroke="#0a8a0a" stroke-width="1"/>
<line x1="449.07" y1="337.8" x2="453.38" y2="337.8" stroke="#0a8a0a" stroke-width="1"/>
<line x1="456.50" y1="331.2" x2="456.50" y2="339.5" stroke="#d23c3c" stroke-width="1"/>
<rect x="454.85" y="335.6" width="3.3" height="1.9" fill="#fff" stroke="#d23c3c" stroke-width="1"/>
<line x1="461.77" y1="333.6" x2="461.77" y2="335.6" stroke="#d23c3c" stroke-width="1"/>
<rect x="460.12" y="334.1" width="3.3" height="1.0" fill="#fff" stroke="#d23c3c" stroke-width="1"/>
<line x1="467.04" y1="322.9" x2="467.04" y2="335.1" stroke="#d23c3c" stroke-width="1"/>
<rect x="465.39" y="324.9" width="3.3" height="5.8" fill="#fff" stroke="#d23c3c" stroke-width="1"/>
<line x1="472.32" y1="323.9" x2="472.32" y2="327.8" stroke="#d23c3c" stroke-width="1"/>
<line x1="470.17" y1="326.2" x2="474.47" y2="326.2" stroke="#d23c3c" stroke-width="1"/>
<line x1="477.59" y1="326.2" x2="477.59" y2="334.5" stroke="#0a8a0a" stroke-width="1"/>
<rect x="475.44" y="326.2" width="4.3" height="3.6" fill="#0a8a0a"/>
<line x1="482.86" y1="321.2" x2="482.86" y2="332.9" stroke="#d23c3c" stroke-width="1"/>
<rect x="481.21" y="324.1" width="3.3" height="5.8" fill="#fff" stroke="#d23c3c" stroke-width="1"/>
<line x1="488.14" y1="320.2" x2="488.14" y2="326.5" stroke="#0a8a0a" stroke-width="1"/>
<rect x="485.99" y="324.6" width="4.3" height="1.9" fill="#0a8a0a"/>
<line x1="493.41" y1="320.7" x2="493.41" y2="329.0" stroke="#d23c3c" stroke-width="1"/>
<rect x="491.76" y="327.0" width="3.3" height="1.5" fill="#fff" stroke="#d23c3c" stroke-width="1"/>
<line x1="498.68" y1="323.1" x2="498.68" y2="330.0" stroke="#0a8a0a" stroke-width="1"/>
<line x1="496.53" y1="329.5" x2="500.83" y2="329.5" stroke="#0a8a0a" stroke-width="1"/>
<line x1="503.95" y1="329.0" x2="503.95" y2="335.3" stroke="#0a8a0a" stroke-width="1"/>
<rect x="501.81" y="329.0" width="4.3" height="3.9" fill="#0a8a0a"/>
<line x1="509.23" y1="320.2" x2="509.23" y2="334.8" stroke="#d23c3c" stroke-width="1"/>
<rect x="507.58" y="325.1" width="3.3" height="5.8" fill="#fff" stroke="#d23c3c" stroke-width="1"/>
<line x1="514.50" y1="325.6" x2="514.50" y2="328.5" stroke="#0a8a0a" stroke-width="1"/>
<line x1="512.35" y1="325.9" x2="516.65" y2="325.9" stroke="#0a8a0a" stroke-width="1"/>
<line x1="519.77" y1="317.8" x2="519.77" y2="328.5" stroke="#d23c3c" stroke-width="1"/>
<rect x="518.12" y="319.7" width="3.3" height="8.3" fill="#fff" stroke="#d23c3c" stroke-width="1"/>
<line x1="525.05" y1="310.5" x2="525.05" y2="321.2" stroke="#d23c3c" stroke-width="1"/>
<rect x="523.40" y="313.9" width="3.3" height="6.8" fill="#fff" stroke="#d23c3c" stroke-width="1"/>
<line x1="530.32" y1="303.2" x2="530.32" y2="313.4" stroke="#d23c3c" stroke-width="1"/>
<line x1="528.17" y1="312.4" x2="532.47" y2="312.4" stroke="#d23c3c" stroke-width="1"/>
<line x1="535.59" y1="305.6" x2="535.59" y2="315.8" stroke="#0a8a0a" stroke-width="1"/>
<rect x="533.44" y="307.0" width="4.3" height="1.5" fill="#0a8a0a"/>
<line x1="540.87" y1="307.0" x2="540.87" y2="311.0" stroke="#0a8a0a" stroke-width="1"/>
<line x1="538.72" y1="309.5" x2="543.02" y2="309.5" stroke="#0a8a0a" stroke-width="1"/>
<line x1="546.14" y1="309.5" x2="546.14" y2="319.4" stroke="#0a8a0a" stroke-width="1"/>
<rect x="543.99" y="309.5" width="4.3" height="9.8" fill="#0a8a0a"/>
<line x1="551.41" y1="312.3" x2="551.41" y2="319.4" stroke="#d23c3c" stroke-width="1"/>
<rect x="549.76" y="312.8" width="3.3" height="6.1" fill="#fff" stroke="#d23c3c" stroke-width="1"/>
<line x1="556.68" y1="310.3" x2="556.68" y2="315.5" stroke="#0a8a0a" stroke-width="1"/>
<line x1="554.53" y1="310.6" x2="558.83" y2="310.6" stroke="#0a8a0a" stroke-width="1"/>
<line x1="561.96" y1="307.2" x2="561.96" y2="313.5" stroke="#d23c3c" stroke-width="1"/>
<rect x="560.31" y="309.6" width="3.3" height="1.5" fill="#fff" stroke="#d23c3c" stroke-width="1"/>
<line x1="567.23" y1="288.2" x2="567.23" y2="310.3" stroke="#d23c3c" stroke-width="1"/>
<rect x="565.58" y="296.0" width="3.3" height="13.8" fill="#fff" stroke="#d23c3c" stroke-width="1"/>
<line x1="572.50" y1="291.6" x2="572.50" y2="298.4" stroke="#0a8a0a" stroke-width="1"/>
<line x1="570.35" y1="295.5" x2="574.65" y2="295.5" stroke="#0a8a0a" stroke-width="1"/>
<line x1="577.78" y1="285.3" x2="577.78" y2="297.0" stroke="#d23c3c" stroke-width="1"/>
<rect x="576.13" y="287.7" width="3.3" height="6.3" fill="#fff" stroke="#d23c3c" stroke-width="1"/>
<line x1="583.05" y1="285.3" x2="583.05" y2="290.6" stroke="#0a8a0a" stroke-width="1"/>
<line x1="580.90" y1="285.8" x2="585.20" y2="285.8" stroke="#0a8a0a" stroke-width="1"/>
<line x1="588.32" y1="286.2" x2="588.32" y2="293.5" stroke="#d23c3c" stroke-width="1"/>
<line x1="586.17" y1="290.1" x2="590.47" y2="290.1" stroke="#d23c3c" stroke-width="1"/>
<line x1="593.60" y1="287.2" x2="593.60" y2="296.0" stroke="#0a8a0a" stroke-width="1"/>
<rect x="591.45" y="287.2" width="4.3" height="7.3" fill="#0a8a0a"/>
<line x1="598.87" y1="297.0" x2="598.87" y2="299.9" stroke="#0a8a0a" stroke-width="1"/>
<rect x="596.72" y="297.0" width="4.3" height="2.9" fill="#0a8a0a"/>
<line x1="604.14" y1="297.0" x2="604.14" y2="301.8" stroke="#d23c3c" stroke-width="1"/>
<line x1="601.99" y1="299.9" x2="606.29" y2="299.9" stroke="#d23c3c" stroke-width="1"/>
<line x1="609.41" y1="297.9" x2="609.41" y2="303.3" stroke="#0a8a0a" stroke-width="1"/>
<rect x="607.26" y="299.4" width="4.3" height="2.4" fill="#0a8a0a"/>
<line x1="614.69" y1="301.3" x2="614.69" y2="309.3" stroke="#0a8a0a" stroke-width="1"/>
<rect x="612.54" y="302.3" width="4.3" height="6.0" fill="#0a8a0a"/>
<line x1="619.96" y1="309.5" x2="619.96" y2="314.4" stroke="#0a8a0a" stroke-width="1"/>
<rect x="617.81" y="309.5" width="4.3" height="4.7" fill="#0a8a0a"/>
<line x1="625.23" y1="310.5" x2="625.23" y2="316.3" stroke="#d23c3c" stroke-width="1"/>
<rect x="623.58" y="312.9" width="3.3" height="0.5" fill="#fff" stroke="#d23c3c" stroke-width="1"/>
<line x1="630.51" y1="311.4" x2="630.51" y2="316.3" stroke="#0a8a0a" stroke-width="1"/>
<rect x="628.36" y="313.9" width="4.3" height="2.4" fill="#0a8a0a"/>
<line x1="635.78" y1="306.1" x2="635.78" y2="317.3" stroke="#d23c3c" stroke-width="1"/>
<rect x="634.13" y="309.5" width="3.3" height="6.3" fill="#fff" stroke="#d23c3c" stroke-width="1"/>
<line x1="641.05" y1="306.6" x2="641.05" y2="311.0" stroke="#d23c3c" stroke-width="1"/>
<line x1="638.90" y1="308.5" x2="643.20" y2="308.5" stroke="#d23c3c" stroke-width="1"/>
<line x1="646.33" y1="299.7" x2="646.33" y2="308.0" stroke="#d23c3c" stroke-width="1"/>
<rect x="644.68" y="306.1" width="3.3" height="1.4" fill="#fff" stroke="#d23c3c" stroke-width="1"/>
<line x1="651.60" y1="303.2" x2="651.60" y2="307.1" stroke="#d23c3c" stroke-width="1"/>
<line x1="649.45" y1="303.6" x2="653.75" y2="303.6" stroke="#d23c3c" stroke-width="1"/>
<line x1="656.87" y1="304.1" x2="656.87" y2="311.4" stroke="#0a8a0a" stroke-width="1"/>
<line x1="654.72" y1="305.6" x2="659.02" y2="305.6" stroke="#0a8a0a" stroke-width="1"/>
<line x1="662.14" y1="306.6" x2="662.14" y2="308.0" stroke="#d23c3c" stroke-width="1"/>
<rect x="660.50" y="307.1" width="3.3" height="0.5" fill="#fff" stroke="#d23c3c" stroke-width="1"/>
<line x1="667.42" y1="307.5" x2="667.42" y2="314.9" stroke="#0a8a0a" stroke-width="1"/>
<rect x="665.27" y="309.0" width="4.3" height="5.9" fill="#0a8a0a"/>
<line x1="672.69" y1="313.4" x2="672.69" y2="317.5" stroke="#d23c3c" stroke-width="1"/>
<line x1="670.54" y1="316.9" x2="674.84" y2="316.9" stroke="#d23c3c" stroke-width="1"/>
<line x1="677.96" y1="316.5" x2="677.96" y2="327.5" stroke="#0a8a0a" stroke-width="1"/>
<rect x="675.81" y="316.5" width="4.3" height="9.1" fill="#0a8a0a"/>
<line x1="683.24" y1="323.0" x2="683.24" y2="328.9" stroke="#0a8a0a" stroke-width="1"/>
<line x1="681.09" y1="326.1" x2="685.39" y2="326.1" stroke="#0a8a0a" stroke-width="1"/>
<line x1="688.51" y1="318.2" x2="688.51" y2="328.9" stroke="#d23c3c" stroke-width="1"/>
<rect x="686.86" y="318.7" width="3.3" height="7.2" fill="#fff" stroke="#d23c3c" stroke-width="1"/>
<line x1="693.78" y1="317.0" x2="693.78" y2="321.6" stroke="#d23c3c" stroke-width="1"/>
<line x1="691.63" y1="317.2" x2="695.93" y2="317.2" stroke="#d23c3c" stroke-width="1"/>
<line x1="699.06" y1="316.7" x2="699.06" y2="320.6" stroke="#0a8a0a" stroke-width="1"/>
<rect x="696.91" y="318.4" width="4.3" height="1.2" fill="#0a8a0a"/>
<line x1="704.33" y1="319.1" x2="704.33" y2="320.9" stroke="#0a8a0a" stroke-width="1"/>
<line x1="702.18" y1="320.6" x2="706.48" y2="320.6" stroke="#0a8a0a" stroke-width="1"/>
<line x1="709.60" y1="322.1" x2="709.60" y2="324.5" stroke="#0a8a0a" stroke-width="1"/>
<rect x="707.45" y="322.1" width="4.3" height="1.4" fill="#0a8a0a"/>
<line x1="714.88" y1="326.4" x2="714.88" y2="330.8" stroke="#0a8a0a" stroke-width="1"/>
<rect x="712.73" y="326.4" width="4.3" height="4.4" fill="#0a8a0a"/>
<line x1="720.15" y1="323.0" x2="720.15" y2="332.3" stroke="#d23c3c" stroke-width="1"/>
<rect x="718.50" y="326.5" width="3.3" height="2.9" fill="#fff" stroke="#d23c3c" stroke-width="1"/>
<line x1="725.42" y1="326.4" x2="725.42" y2="331.3" stroke="#0a8a0a" stroke-width="1"/>
<rect x="723.27" y="326.4" width="4.3" height="4.9" fill="#0a8a0a"/>
<line x1="730.69" y1="327.4" x2="730.69" y2="333.8" stroke="#d23c3c" stroke-width="1"/>
<rect x="729.04" y="329.9" width="3.3" height="0.9" fill="#fff" stroke="#d23c3c" stroke-width="1"/>
<line x1="735.97" y1="330.1" x2="735.97" y2="335.2" stroke="#0a8a0a" stroke-width="1"/>
<rect x="733.82" y="330.1" width="4.3" height="2.7" fill="#0a8a0a"/>
<line x1="741.24" y1="332.3" x2="741.24" y2="339.6" stroke="#0a8a0a" stroke-width="1"/>
<rect x="739.09" y="334.2" width="4.3" height="4.4" fill="#0a8a0a"/>
<line x1="746.51" y1="339.6" x2="746.51" y2="345.4" stroke="#0a8a0a" stroke-width="1"/>
<rect x="744.36" y="339.6" width="4.3" height="5.8" fill="#0a8a0a"/>
<line x1="751.79" y1="328.4" x2="751.79" y2="345.4" stroke="#d23c3c" stroke-width="1"/>
<rect x="750.14" y="333.8" width="3.3" height="11.1" fill="#fff" stroke="#d23c3c" stroke-width="1"/>
<line x1="757.06" y1="330.8" x2="757.06" y2="334.3" stroke="#d23c3c" stroke-width="1"/>
<rect x="755.41" y="332.8" width="3.3" height="1.0" fill="#fff" stroke="#d23c3c" stroke-width="1"/>
<line x1="762.33" y1="332.0" x2="762.33" y2="335.2" stroke="#0a8a0a" stroke-width="1"/>
<rect x="760.18" y="332.0" width="4.3" height="3.2" fill="#0a8a0a"/>
<line x1="767.60" y1="336.2" x2="767.60" y2="344.5" stroke="#0a8a0a" stroke-width="1"/>
<rect x="765.45" y="336.2" width="4.3" height="7.3" fill="#0a8a0a"/>
<line x1="772.88" y1="343.5" x2="772.88" y2="348.4" stroke="#0a8a0a" stroke-width="1"/>
<rect x="770.73" y="345.0" width="4.3" height="1.9" fill="#0a8a0a"/>
<line x1="778.15" y1="346.9" x2="778.15" y2="350.3" stroke="#0a8a0a" stroke-width="1"/>
<line x1="776.00" y1="349.2" x2="780.30" y2="349.2" stroke="#0a8a0a" stroke-width="1"/>
<line x1="783.42" y1="348.4" x2="783.42" y2="353.3" stroke="#0a8a0a" stroke-width="1"/>
<rect x="781.27" y="349.4" width="4.3" height="2.4" fill="#0a8a0a"/>
<line x1="788.70" y1="353.8" x2="788.70" y2="360.6" stroke="#0a8a0a" stroke-width="1"/>
<rect x="786.55" y="354.7" width="4.3" height="5.9" fill="#0a8a0a"/>
<line x1="793.97" y1="358.6" x2="793.97" y2="361.8" stroke="#0a8a0a" stroke-width="1"/>
<rect x="791.82" y="359.9" width="4.3" height="1.9" fill="#0a8a0a"/>
<line x1="799.24" y1="362.5" x2="799.24" y2="364.5" stroke="#0a8a0a" stroke-width="1"/>
<rect x="797.09" y="362.5" width="4.3" height="2.0" fill="#0a8a0a"/>
<line x1="804.52" y1="361.5" x2="804.52" y2="365.0" stroke="#d23c3c" stroke-width="1"/>
<rect x="802.87" y="362.0" width="3.3" height="2.5" fill="#fff" stroke="#d23c3c" stroke-width="1"/>
<line x1="809.79" y1="358.6" x2="809.79" y2="362.5" stroke="#d23c3c" stroke-width="1"/>
<line x1="807.64" y1="362.0" x2="811.94" y2="362.0" stroke="#d23c3c" stroke-width="1"/>
<line x1="815.06" y1="358.6" x2="815.06" y2="363.5" stroke="#0a8a0a" stroke-width="1"/>
<line x1="812.91" y1="361.8" x2="817.21" y2="361.8" stroke="#0a8a0a" stroke-width="1"/>
<line x1="820.33" y1="356.2" x2="820.33" y2="363.5" stroke="#d23c3c" stroke-width="1"/>
<rect x="818.68" y="361.5" width="3.3" height="1.0" fill="#fff" stroke="#d23c3c" stroke-width="1"/>
<line x1="825.61" y1="361.5" x2="825.61" y2="366.9" stroke="#0a8a0a" stroke-width="1"/>
<rect x="823.46" y="361.6" width="4.3" height="5.3" fill="#0a8a0a"/>
<line x1="830.88" y1="365.0" x2="830.88" y2="371.3" stroke="#d23c3c" stroke-width="1"/>
<rect x="829.23" y="366.9" width="3.3" height="0.5" fill="#fff" stroke="#d23c3c" stroke-width="1"/>
<line x1="836.15" y1="365.0" x2="836.15" y2="367.4" stroke="#0a8a0a" stroke-width="1"/>
<line x1="834.00" y1="366.2" x2="838.30" y2="366.2" stroke="#0a8a0a" stroke-width="1"/>
<line x1="841.43" y1="367.9" x2="841.43" y2="378.6" stroke="#0a8a0a" stroke-width="1"/>
<rect x="839.28" y="367.9" width="4.3" height="10.7" fill="#0a8a0a"/>
<line x1="846.70" y1="375.2" x2="846.70" y2="377.2" stroke="#d23c3c" stroke-width="1"/>
<rect x="845.05" y="375.7" width="3.3" height="1.0" fill="#fff" stroke="#d23c3c" stroke-width="1"/>
<line x1="851.97" y1="373.8" x2="851.97" y2="382.5" stroke="#0a8a0a" stroke-width="1"/>
<rect x="849.82" y="373.8" width="4.3" height="4.8" fill="#0a8a0a"/>
<line x1="857.25" y1="375.2" x2="857.25" y2="380.6" stroke="#d23c3c" stroke-width="1"/>
<rect x="855.60" y="375.7" width="3.3" height="1.5" fill="#fff" stroke="#d23c3c" stroke-width="1"/>
<line x1="862.52" y1="377.2" x2="862.52" y2="384.5" stroke="#0a8a0a" stroke-width="1"/>
<rect x="860.37" y="377.2" width="4.3" height="5.3" fill="#0a8a0a"/>
<text x="7.5" y="13" font-size="11.5" fill="#c0283a" font-weight="bold" font-family='"Noto Serif CJK SC",serif' text-anchor="middle">赢</text>
<text x="8.0" y="31.5" font-size="11.5" fill="#c0283a" font-weight="bold" font-family='"Noto Serif CJK SC",serif' text-anchor="middle">赢</text>
<line x1="933" y1="7.5" x2="941" y2="7.5" stroke="#555" stroke-width="1"/>
<rect x="967.5" y="5.5" width="6" height="6" fill="none" stroke="#222" stroke-width="1"/><path d="M969.5,5.5 V3.5 H975.5 V9.5 H973.5" fill="none" stroke="#222" stroke-width="1"/>
<path d="M1001,4 L1009,12 M1009,4 L1001,12" stroke="#444" stroke-width="0.9"/>
<rect x="983.5" y="22.5" width="11.5" height="10" fill="#f0f0f0" stroke="#808080"/>
<path d="M983.5,32.5 V22.5 H995" fill="none" stroke="#fff"/>
<rect x="996.5" y="22.5" width="11.5" height="10" fill="#f0f0f0" stroke="#808080"/>
<path d="M996.5,32.5 V22.5 H1008" fill="none" stroke="#fff"/>
<rect x="1010.0" y="22.5" width="11.5" height="10" fill="#f0f0f0" stroke="#808080"/>
<path d="M1010.0,32.5 V22.5 H1021.5" fill="none" stroke="#fff"/>
<rect x="986" y="29" width="5.5" height="1.8" fill="#111"/>
<rect x="999.5" y="26.5" width="5" height="4" fill="none" stroke="#111" stroke-width="1.1"/><path d="M1001,26.5 V24.5 H1006.5 V28.5 H1004.5" fill="none" stroke="#111" stroke-width="1.1"/>
<path d="M1012.5,24.5 L1018.5,30.5 M1018.5,24.5 L1012.5,30.5" stroke="#000" stroke-width="1.8"/>
<rect x="8.5" y="42.5" width="12" height="9" fill="#f4f4f8" stroke="#1c2448"/><rect x="9" y="43" width="11" height="2" fill="#2a3a98"/><line x1="9" y1="47.1" x2="20" y2="47.1" stroke="#7a7a8a" stroke-width=".8"/><line x1="9" y1="49.2" x2="20" y2="49.2" stroke="#7a7a8a" stroke-width=".8"/><line x1="11.2" y1="45" x2="11.2" y2="51" stroke="#7a7a8a" stroke-width=".8"/><line x1="13.4" y1="45" x2="13.4" y2="51" stroke="#7a7a8a" stroke-width=".8"/><line x1="15.6" y1="45" x2="15.6" y2="51" stroke="#7a7a8a" stroke-width=".8"/><line x1="17.8" y1="45" x2="17.8" y2="51" stroke="#7a7a8a" stroke-width=".8"/>
<rect x="48" y="41.5" width="12.5" height="11.5" fill="#1e3c40"/><rect x="49" y="42.5" width="4.5" height="4" fill="#34d4d0"/><rect x="55" y="42.3" width="4.5" height="3.8" fill="#34d4d0"/><rect x="49" y="48.0" width="4.5" height="4" fill="#34d4d0"/><rect x="54.5" y="47.0" width="5" height="5" fill="#34d4d0"/><rect x="53.8" y="46.3" width="1" height="6.5" fill="#f0f0f0"/>
<line x1="89.0" y1="46.0" x2="89.0" y2="52.0" stroke="#e02828" stroke-width=".8"/><rect x="88.1" y="47.4" width="1.8" height="3.2" fill="#e02828"/><line x1="92.2" y1="44.1" x2="92.2" y2="50.1" stroke="#e02828" stroke-width=".8"/><rect x="91.3" y="45.5" width="1.8" height="3.2" fill="#e02828"/><line x1="95.4" y1="42.2" x2="95.4" y2="48.2" stroke="#e02828" stroke-width=".8"/><rect x="94.5" y="43.6" width="1.8" height="3.2" fill="#e02828"/><line x1="98.6" y1="40.3" x2="98.6" y2="46.3" stroke="#e02828" stroke-width=".8"/><rect x="97.7" y="41.7" width="1.8" height="3.2" fill="#e02828"/>
<rect x="126.2" y="43.0" width="10" height="9" fill="#fdf0f0" stroke="#c04040" stroke-width="1"/><text x="131.2" y="50.1" font-size="6" fill="#333" font-weight="normal" font-family='"Liberation Sans",sans-serif' text-anchor="middle">PS</text>
<rect x="180.5" y="43.0" width="10" height="9" fill="#fdf0fd" stroke="#c040c0" stroke-width="1"/><text x="185.5" y="50.1" font-size="6" fill="#333" font-weight="normal" font-family='"Liberation Sans",sans-serif' text-anchor="middle">P9</text>
<rect x="239.8" y="43.0" width="10" height="9" fill="#fdf0f0" stroke="#c03050" stroke-width="1"/><text x="244.8" y="50.1" font-size="6" fill="#333" font-weight="normal" font-family='"Liberation Sans",sans-serif' text-anchor="middle">PN</text>
<rect x="294.0" y="43.0" width="10" height="9" fill="#f0fdf0" stroke="#30a050" stroke-width="1"/><text x="299.0" y="50.1" font-size="6" fill="#c04040" font-weight="normal" font-family='"Liberation Sans",sans-serif' text-anchor="middle">TS</text>
<rect x="348.0" y="43.0" width="10" height="9" fill="#f0fdfd" stroke="#30b0c0" stroke-width="1"/><text x="353.0" y="50.1" font-size="6" fill="#333" font-weight="normal" font-family='"Liberation Sans",sans-serif' text-anchor="middle">T9</text>
<rect x="407.5" y="43.0" width="10" height="9" fill="#f4fde8" stroke="#70902a" stroke-width="1"/><text x="412.5" y="50.1" font-size="6" fill="#333" font-weight="normal" font-family='"Liberation Sans",sans-serif' text-anchor="middle">TN</text>
<circle cx="466.4" cy="47.5" r="5.4" fill="#8a2a2a"/><circle cx="466.4" cy="47.5" r="3.67" fill="#f0e0e0"/><circle cx="466.4" cy="47.5" r="2.16" fill="#6a8a6a"/>
<circle cx="515.7" cy="47.5" r="5.6" fill="#50a070"/><circle cx="515.7" cy="47.5" r="3.81" fill="#e8f8ec"/><circle cx="515.7" cy="47.5" r="2.24" fill="#d0f0d8"/><text x="515.7" y="50" font-size="5" fill="#307050" font-weight="bold" font-family='"Liberation Sans",sans-serif' text-anchor="middle">Bk</text>
<polygon points="570.0,47.5 567.2,52.3 561.6,52.3 558.8,47.5 561.6,42.7 567.2,42.7" fill="#c8a8e8" stroke="#7a3aa0" stroke-width="1.2"/><polygon points="567.8,47.5 566.1,50.4 562.7,50.4 561.0,47.5 562.7,44.6 566.1,44.6" fill="#4848c8" stroke="#fff" stroke-width=".6"/><circle cx="564.4" cy="47.5" r="1.4" fill="#c0c0ff"/>
<text x="613.8" y="52.5" font-size="13" fill="#6cc46c" font-weight="bold" font-family='"Liberation Sans",sans-serif' text-anchor="middle">$</text>
<polygon points="22.8,67.3 26.8,67.3 24.8,69.3" fill="#222"/>
<rect x="30.0" y="59.5" width="15.0" height="16" fill="#f9f9f9" stroke="#e2e2e2"/><line x1="30.0" y1="59.5" x2="45.0" y2="59.5" stroke="#c8c8c8"/><line x1="30.0" y1="59.5" x2="30.0" y2="75.5" stroke="#c8c8c8"/>
<rect x="33.3" y="64.0" width="10.6" height="8.4" rx="1" fill="#8282dc" stroke="#3a3aa8" stroke-width="1"/><path d="M34.5,64.7 L42.7,71.7 M42.7,64.7 L34.5,71.7" stroke="#f4f4ff" stroke-width="1.6"/><rect x="37" y="62.7" width="3" height="1" fill="#222"/>
<rect x="50.6" y="63.2" width="7.5" height="8.4" rx="1.6" fill="#f0eefc" stroke="#5050c8" stroke-width="1.1"/><rect x="52.8" y="62.3" width="3" height="1.8" fill="#5050c8"/><rect x="53.2" y="66.2" width="2.4" height="3" fill="#333"/>
<path d="M67.0,71 L67.0,69 L69.5,69 L69.5,67 L72.0,67 L72.0,64.5 L74.0,64.5 L74.0,62.5" fill="none" stroke="#a030b0" stroke-width="1.6"/><path d="M68.0,71 L68.0,70 M70.5,71 L70.5,68.5 M73.0,71 L73.0,66" stroke="#a030b0" stroke-width="1.4"/><text x="75.8" y="72.5" font-size="5" fill="#222" font-weight="bold" font-family='"Liberation Sans","Noto Sans CJK SC",sans-serif' text-anchor="start">s</text>
<path d="M84.2,71 L84.2,69 L86.7,69 L86.7,67 L89.2,67 L89.2,64.5 L91.2,64.5 L91.2,62.5" fill="none" stroke="#c03838" stroke-width="1.6"/><path d="M85.2,71 L85.2,70 M87.7,71 L87.7,68.5 M90.2,71 L90.2,66" stroke="#c03838" stroke-width="1.4"/><text x="93.0" y="72.5" font-size="5" fill="#222" font-weight="bold" font-family='"Liberation Sans","Noto Sans CJK SC",sans-serif' text-anchor="start">s</text>
<line x1="106.5" y1="62.5" x2="106.5" y2="72.5" stroke="#333" stroke-width="1"/><rect x="104.5" y="65.0" width="4" height="5" fill="#ddd" stroke="#333"/>
<polygon points="115,67.3 119,67.3 117,69.3" fill="#222"/>
<rect x="123.0" y="59.5" width="15.0" height="16" fill="#f9f9f9" stroke="#e2e2e2"/><line x1="123.0" y1="59.5" x2="138.0" y2="59.5" stroke="#c8c8c8"/><line x1="123.0" y1="59.5" x2="123.0" y2="75.5" stroke="#c8c8c8"/>
<text x="130.5" y="71.5" font-size="11.5" fill="#f6d4d4" stroke="#c02828" stroke-width=".55" font-weight="bold" font-family='"Noto Sans CJK SC",sans-serif' text-anchor="middle">权</text>
<polygon points="142.5,62 153.5,67 142.5,70" fill="#e030d0"/><polygon points="142.5,67 151.5,68 142.5,71" fill="#28a0a0"/><line x1="142.5" y1="62" x2="142.5" y2="73" stroke="#222" stroke-width="1.2"/><line x1="141.5" y1="72.5" x2="154.0" y2="72.5" stroke="#222" stroke-width="1.2"/>
<line x1="158.5" y1="60" x2="158.5" y2="75" stroke="#a8a8a8"/><line x1="159.5" y1="60" x2="159.5" y2="75" stroke="#fff"/>
<rect x="163" y="61.7" width="2.2" height="11" fill="#3c4010"/><polygon points="165.2,67.2 174.5,61.7 174.5,72.7" fill="#7a8a1a" stroke="#3c4010" stroke-width=".8"/>
<rect x="189.8" y="61.7" width="2.2" height="11" fill="#3c4010"/><polygon points="189.8,67.2 180.5,61.7 180.5,72.7" fill="#7a8a1a" stroke="#3c4010" stroke-width=".8"/>
<polygon points="198.5,67.5 209.5,61.5 209.5,72.5" fill="#1a1a1a"/><polygon points="202.5,67.5 209.5,63.0 209.5,67.5" fill="#9a9a9a"/>
<polygon points="226.5,67.5 215.5,61.5 215.5,72.5" fill="#1a1a1a"/><polygon points="222.5,67.5 215.5,63.0 215.5,67.5" fill="#9a9a9a"/>
<polygon points="238.2,61.800000000000004 243.6,67.2 238.2,72.60000000000001 232.79999999999998,67.2" fill="#ecec3a" stroke="#4a4a10" stroke-width=".9"/><line x1="235.2" y1="67.2" x2="241.2" y2="67.2" stroke="#222" stroke-width="1"/><polygon points="235.0,67.2 237.0,65.7 237.0,68.7" fill="#222"/>
<polygon points="255.6,61.800000000000004 261.0,67.2 255.6,72.60000000000001 250.2,67.2" fill="#ecec3a" stroke="#4a4a10" stroke-width=".9"/><line x1="252.6" y1="67.2" x2="258.6" y2="67.2" stroke="#222" stroke-width="1"/><polygon points="258.8,67.2 256.8,65.7 256.8,68.7" fill="#222"/>
<polygon points="272.9,61.800000000000004 278.29999999999995,67.2 272.9,72.60000000000001 267.5,67.2" fill="#ecec3a" stroke="#4a4a10" stroke-width=".9"/><line x1="269.9" y1="67.2" x2="275.9" y2="67.2" stroke="#222" stroke-width="1"/><polygon points="269.7,67.2 271.7,65.7 271.7,68.7" fill="#222"/><polygon points="276.09999999999997,67.2 274.09999999999997,65.7 274.09999999999997,68.7" fill="#222"/>
<polygon points="290.0,61.800000000000004 295.4,67.2 290.0,72.60000000000001 284.6,67.2" fill="#ecec3a" stroke="#4a4a10" stroke-width=".9"/><line x1="287.0" y1="67.2" x2="293.0" y2="67.2" stroke="#222" stroke-width="1"/><polygon points="289.5,67.2 287.5,65.7 287.5,68.7" fill="#222"/><polygon points="290.5,67.2 292.5,65.7 292.5,68.7" fill="#222"/>
<polygon points="307.4,61.800000000000004 312.79999999999995,67.2 307.4,72.60000000000001 302.0,67.2" fill="#ecec3a" stroke="#4a4a10" stroke-width=".9"/><line x1="304.4" y1="67.2" x2="310.4" y2="67.2" stroke="#222" stroke-width="1"/><line x1="307.4" y1="64.2" x2="307.4" y2="70.2" stroke="#222" stroke-width="1"/><circle cx="307.4" cy="67.2" r="1.3" fill="#222"/>
<polygon points="324.8,61.800000000000004 330.2,67.2 324.8,72.60000000000001 319.40000000000003,67.2" fill="#ecec3a" stroke="#4a4a10" stroke-width=".9"/><line x1="321.8" y1="67.2" x2="327.8" y2="67.2" stroke="#222" stroke-width="1"/><polygon points="324.8,63.900000000000006 323.3,65.9 326.3,65.9" fill="#222"/><polygon points="324.8,70.5 323.3,68.5 326.3,68.5" fill="#222"/>
<line x1="336.5" y1="60" x2="336.5" y2="75" stroke="#a8a8a8"/><line x1="337.5" y1="60" x2="337.5" y2="75" stroke="#fff"/>
<path d="M344,72.5 L342,67.5 L343.5,67.0 L345,68.5 L345,63.0 L346.5,63.0 L346.5,66.5 L347,62.5 L348.5,62.5 L348.5,66.5 L349.3,63.5 L350.6,64.0 L350.4,67.0 L351.2,65.5 L352.2,66.1 L351,70.5 L349.5,72.5Z" fill="#fff" stroke="#222" stroke-width=".9"/>
<rect x="356.5" y="59.5" width="15.5" height="16" fill="#f9f9f9" stroke="#e2e2e2"/><line x1="356.5" y1="59.5" x2="372.0" y2="59.5" stroke="#c8c8c8"/><line x1="356.5" y1="59.5" x2="356.5" y2="75.5" stroke="#c8c8c8"/>
<line x1="365.5" y1="62.2" x2="365.5" y2="72.2" stroke="#333" stroke-width="1.1"/><line x1="360.5" y1="67.2" x2="370.5" y2="67.2" stroke="#333" stroke-width="1.1"/>
<polyline points="377,69.5 380,71.5 384,63.5 387,68.5" fill="none" stroke="#d02020" stroke-width="1.2"/><circle cx="377" cy="66.5" r="1.2" fill="#222"/><circle cx="380" cy="71.5" r="1.2" fill="#222"/><circle cx="384" cy="63.5" r="1.2" fill="#222"/>
<text x="398.5" y="71.2" font-size="11.5" fill="#f8d0f0" stroke="#c03cb0" stroke-width=".55" font-weight="bold" font-family='"Noto Sans CJK SC",sans-serif' text-anchor="middle">节</text>
<text x="416" y="71.2" font-size="11.5" fill="#d0f4f0" stroke="#30a8a0" stroke-width=".55" font-weight="bold" font-family='"Noto Sans CJK SC",sans-serif' text-anchor="middle">丝</text>
<line x1="427.8" y1="60" x2="427.8" y2="75" stroke="#a8a8a8"/><line x1="428.8" y1="60" x2="428.8" y2="75" stroke="#fff"/>
<rect x="434.0" y="63.0" width="9.5" height="9" fill="#f8e8e8" stroke="#b06060"/><rect x="434.5" y="63.0" width="8.5" height="2.2" fill="#30b0b0"/><text x="438.8" y="71.3" font-size="5.5" fill="#c03030" font-weight="bold" font-family='"Liberation Sans",sans-serif' text-anchor="middle">21</text>
<rect x="449.8" y="62.0" width="11" height="10.5" fill="#0a6a70" stroke="#063a3e"/><rect x="451.3" y="63.5" width="8" height="2.2" fill="#a0e8e8"/><rect x="451.3" y="67.0" width="2" height="1.6" fill="#d0f0f0"/><rect x="454.1" y="67.0" width="2" height="1.6" fill="#d0f0f0"/><rect x="456.9" y="67.0" width="2" height="1.6" fill="#d0f0f0"/><rect x="451.3" y="69.5" width="2" height="1.6" fill="#d0f0f0"/><rect x="454.1" y="69.5" width="2" height="1.6" fill="#d0f0f0"/><rect x="456.9" y="69.5" width="2" height="1.6" fill="#d0f0f0"/>
<rect x="467.5" y="62.0" width="11" height="10.5" fill="#fff" stroke="#111" stroke-width="1.2"/><line x1="470" y1="64.5" x2="476" y2="64.5" stroke="#3050c0" stroke-width=".8"/><line x1="470" y1="66.5" x2="476" y2="66.5" stroke="#3050c0" stroke-width=".8"/><line x1="470" y1="68.5" x2="476" y2="68.5" stroke="#3050c0" stroke-width=".8"/><line x1="470" y1="70.5" x2="476" y2="70.5" stroke="#3050c0" stroke-width=".8"/>
<rect x="484.5" y="61.5" width="11.5" height="11" fill="#c01818" stroke="#500"/><rect x="487" y="62" width="8" height="5.5" fill="#20b0c8"/><rect x="487.5" y="68.5" width="6" height="3.5" fill="#111"/>
<rect x="501" y="62.5" width="8" height="6" fill="#4050b0" stroke="#112"/><rect x="502" y="63.5" width="6" height="4" fill="#c8d0ff"/><circle cx="509.5" cy="69.5" r="3.8" fill="#30a040" stroke="#143"/><rect x="504" y="66.5" width="5" height="4" fill="#4050b0"/>
<rect x="521.8" y="61" width="9" height="8" fill="#5060c0" stroke="#112"/><rect x="522.8" y="62" width="7" height="5" fill="#d0d8ff"/><rect x="518.8" y="65" width="4" height="7" fill="#2a3070"/><rect x="522.8" y="70" width="8" height="3" fill="#333"/>
<polygon points="9.8,91.5 16.8,82.5 19.8,85.0 12.8,92.5" fill="#3a2020"/><polygon points="15.3,84.5 17.3,81.0 20.3,83.5 18.8,86.5" fill="#e02030"/><line x1="7.8" y1="92.5" x2="11.8" y2="90.5" stroke="#222"/>
<line x1="26.4" y1="86.5" x2="36.4" y2="86.5" stroke="#222" stroke-width=".9"/><line x1="27.9" y1="82.0" x2="27.9" y2="91.0" stroke="#222" stroke-width="1.1"/><line x1="31.4" y1="82.0" x2="31.4" y2="91.0" stroke="#222" stroke-width="1.1"/><line x1="34.9" y1="82.0" x2="34.9" y2="91.0" stroke="#222" stroke-width="1.1"/>
<line x1="43" y1="84.0" x2="54" y2="84.0" stroke="#222" stroke-width="1"/><line x1="44.0" y1="82.0" x2="44.0" y2="86.0" stroke="#222" stroke-width=".9"/><line x1="46.2" y1="82.0" x2="46.2" y2="86.0" stroke="#222" stroke-width=".9"/><line x1="48.5" y1="82.0" x2="48.5" y2="86.0" stroke="#222" stroke-width=".9"/><line x1="50.8" y1="82.0" x2="50.8" y2="86.0" stroke="#222" stroke-width=".9"/><line x1="53.0" y1="82.0" x2="53.0" y2="86.0" stroke="#222" stroke-width=".9"/><text x="48.5" y="93.0" font-size="8.5" fill="#a8a820" font-weight="bold" font-family='"Noto Sans CJK SC",sans-serif' text-anchor="middle">金</text>
<line x1="60.5" y1="84.0" x2="71.5" y2="84.0" stroke="#222" stroke-width="1"/><line x1="61.5" y1="82.0" x2="61.5" y2="86.0" stroke="#222" stroke-width=".9"/><line x1="63.8" y1="82.0" x2="63.8" y2="86.0" stroke="#222" stroke-width=".9"/><line x1="66.0" y1="82.0" x2="66.0" y2="86.0" stroke="#222" stroke-width=".9"/><line x1="68.2" y1="82.0" x2="68.2" y2="86.0" stroke="#222" stroke-width=".9"/><line x1="70.5" y1="82.0" x2="70.5" y2="86.0" stroke="#222" stroke-width=".9"/><text x="66.0" y="93.0" font-size="8.5" fill="#a8a820" font-weight="bold" font-family='"Noto Sans CJK SC",sans-serif' text-anchor="middle">金</text>
<line x1="77.3" y1="84.0" x2="88.3" y2="84.0" stroke="#222" stroke-width="1"/><line x1="78.3" y1="82.0" x2="78.3" y2="86.0" stroke="#222" stroke-width=".9"/><line x1="80.5" y1="82.0" x2="80.5" y2="86.0" stroke="#222" stroke-width=".9"/><line x1="82.8" y1="82.0" x2="82.8" y2="86.0" stroke="#222" stroke-width=".9"/><line x1="85.0" y1="82.0" x2="85.0" y2="86.0" stroke="#222" stroke-width=".9"/><line x1="87.3" y1="82.0" x2="87.3" y2="86.0" stroke="#222" stroke-width=".9"/><text x="83" y="93.0" font-size="8.5" fill="#222" font-weight="normal" font-family='"Liberation Sans",sans-serif' text-anchor="middle">F</text>
<line x1="95" y1="84.0" x2="106" y2="84.0" stroke="#222" stroke-width="1"/><line x1="96.0" y1="82.0" x2="96.0" y2="86.0" stroke="#222" stroke-width=".9"/><line x1="98.2" y1="82.0" x2="98.2" y2="86.0" stroke="#222" stroke-width=".9"/><line x1="100.5" y1="82.0" x2="100.5" y2="86.0" stroke="#222" stroke-width=".9"/><line x1="102.8" y1="82.0" x2="102.8" y2="86.0" stroke="#222" stroke-width=".9"/><line x1="105.0" y1="82.0" x2="105.0" y2="86.0" stroke="#222" stroke-width=".9"/><path d="M98,89 C94,92 100,95 103,91 C104,88 100,87 99,89" fill="none" stroke="#333" stroke-width="1"/>
<ellipse cx="118.8" cy="85.0" rx="4.5" ry="3.5" fill="#c02030"/><polygon points="113.8,88.5 117.8,83.5 120.8,87.5" fill="#3a2020"/><line x1="111.8" y1="91.5" x2="123.8" y2="91.5" stroke="#222"/><line x1="114.8" y1="90.0" x2="114.8" y2="93.0" stroke="#222"/><line x1="118.8" y1="90.0" x2="118.8" y2="93.0" stroke="#222"/><line x1="122.8" y1="90.0" x2="122.8" y2="93.0" stroke="#222"/>
<circle cx="135.3" cy="87.0" r="5.6" fill="#fff" stroke="#222" stroke-width="1.1"/><line x1="130.8" y1="87.0" x2="139.8" y2="87.0" stroke="#222"/><line x1="132.3" y1="85.5" x2="132.3" y2="88.5" stroke="#222" stroke-width=".8"/><line x1="134.3" y1="85.5" x2="134.3" y2="88.5" stroke="#222" stroke-width=".8"/><line x1="136.3" y1="85.5" x2="136.3" y2="88.5" stroke="#222" stroke-width=".8"/><line x1="138.3" y1="85.5" x2="138.3" y2="88.5" stroke="#222" stroke-width=".8"/>
<line x1="146.8" y1="86.5" x2="158.8" y2="86.5" stroke="#222" stroke-width=".9"/><line x1="148.3" y1="82.0" x2="148.3" y2="91.0" stroke="#222" stroke-width="1.1"/><line x1="151.3" y1="82.0" x2="151.3" y2="91.0" stroke="#222" stroke-width="1.1"/><line x1="154.3" y1="82.0" x2="154.3" y2="91.0" stroke="#222" stroke-width="1.1"/><line x1="157.3" y1="82.0" x2="157.3" y2="91.0" stroke="#222" stroke-width="1.1"/>
<line x1="164" y1="84.0" x2="175" y2="84.0" stroke="#222" stroke-width="1"/><line x1="165.0" y1="82.0" x2="165.0" y2="86.0" stroke="#222" stroke-width=".9"/><line x1="167.2" y1="82.0" x2="167.2" y2="86.0" stroke="#222" stroke-width=".9"/><line x1="169.5" y1="82.0" x2="169.5" y2="86.0" stroke="#222" stroke-width=".9"/><line x1="171.8" y1="82.0" x2="171.8" y2="86.0" stroke="#222" stroke-width=".9"/><line x1="174.0" y1="82.0" x2="174.0" y2="86.0" stroke="#222" stroke-width=".9"/><text x="170" y="93.0" font-size="8" fill="#222" font-weight="normal" font-family='"Liberation Sans",sans-serif' text-anchor="middle">n²</text>
<polyline points="182.2,91.5 188.2,81.5 191.2,91.5" fill="none" stroke="#333" stroke-width="1"/><line x1="182.2" y1="91.5" x2="191.2" y2="86.5" stroke="#333"/><line x1="192.7" y1="81.5" x2="192.7" y2="92.5" stroke="#999"/>
<circle cx="205" cy="87.0" r="4.5" fill="none" stroke="#c02020" stroke-width="1.2"/><line x1="205" y1="81.0" x2="205" y2="93.0" stroke="#c02020"/><line x1="199" y1="87.0" x2="211" y2="87.0" stroke="#c02020"/>
<line x1="216.7" y1="87.0" x2="227.7" y2="87.0" stroke="#c07070" stroke-width="1"/><line x1="217.4" y1="84.2" x2="227.0" y2="89.8" stroke="#c07070" stroke-width="1"/><line x1="219.4" y1="82.2" x2="224.9" y2="91.8" stroke="#c07070" stroke-width="1"/><line x1="222.2" y1="81.5" x2="222.2" y2="92.5" stroke="#c07070" stroke-width="1"/><line x1="224.9" y1="82.2" x2="219.4" y2="91.8" stroke="#c07070" stroke-width="1"/><line x1="227.0" y1="84.2" x2="217.4" y2="89.8" stroke="#c07070" stroke-width="1"/><circle cx="222.2" cy="87.0" r="1.8" fill="#a02020"/>
<rect x="233.5" y="81.0" width="11.5" height="11.5" fill="#e8e0e0" stroke="#777"/><rect x="236" y="83.5" width="6.5" height="6.5" fill="#b8a0a0" stroke="#555" stroke-width=".6"/><circle cx="239.25" cy="86.75" r="1.5" fill="#802020"/>
<polyline points="251.3,82.5 251.3,91.5 258.3,82.5" fill="none" stroke="#333" stroke-width="1.2"/><line x1="259.3" y1="81.5" x2="259.3" y2="84.5" stroke="#333"/><line x1="261.3" y1="81.5" x2="261.3" y2="84.5" stroke="#333"/>
<line x1="267.9" y1="83.5" x2="279.9" y2="83.5" stroke="#222" stroke-width="1"/><line x1="268.9" y1="81.5" x2="268.9" y2="85.5" stroke="#222" stroke-width=".9"/><line x1="271.4" y1="81.5" x2="271.4" y2="85.5" stroke="#222" stroke-width=".9"/><line x1="273.9" y1="81.5" x2="273.9" y2="85.5" stroke="#222" stroke-width=".9"/><line x1="276.4" y1="81.5" x2="276.4" y2="85.5" stroke="#222" stroke-width=".9"/><line x1="278.9" y1="81.5" x2="278.9" y2="85.5" stroke="#222" stroke-width=".9"/><text x="273.9" y="93.0" font-size="9" fill="#e01818" font-weight="bold" font-family='"Noto Sans CJK SC",sans-serif' text-anchor="middle">卄</text>
<line x1="285.5" y1="83.5" x2="297.5" y2="83.5" stroke="#222" stroke-width="1"/><line x1="286.5" y1="81.5" x2="286.5" y2="85.5" stroke="#222" stroke-width=".9"/><line x1="289.0" y1="81.5" x2="289.0" y2="85.5" stroke="#222" stroke-width=".9"/><line x1="291.5" y1="81.5" x2="291.5" y2="85.5" stroke="#222" stroke-width=".9"/><line x1="294.0" y1="81.5" x2="294.0" y2="85.5" stroke="#222" stroke-width=".9"/><line x1="296.5" y1="81.5" x2="296.5" y2="85.5" stroke="#222" stroke-width=".9"/><text x="291.5" y="93.0" font-size="9" fill="#e01818" font-weight="bold" font-family='"Noto Sans CJK SC",sans-serif' text-anchor="middle">箴</text>
<rect x="303.5" y="82.0" width="11" height="9.5" fill="#fff" stroke="#222"/><line x1="303.5" y1="84.4" x2="314.5" y2="84.4" stroke="#222" stroke-width=".8"/><line x1="303.5" y1="86.8" x2="314.5" y2="86.8" stroke="#222" stroke-width=".8"/><line x1="303.5" y1="89.2" x2="314.5" y2="89.2" stroke="#222" stroke-width=".8"/><line x1="306.3" y1="84.5" x2="306.3" y2="91.5" stroke="#222" stroke-width=".6"/><line x1="309.1" y1="84.5" x2="309.1" y2="91.5" stroke="#222" stroke-width=".6"/><line x1="311.9" y1="84.5" x2="311.9" y2="91.5" stroke="#222" stroke-width=".6"/>
<line x1="320.8" y1="81.5" x2="320.8" y2="88.5" stroke="#222"/><line x1="330.8" y1="81.5" x2="330.8" y2="88.5" stroke="#222"/><line x1="325.8" y1="80.5" x2="325.8" y2="92.5" stroke="#222"/><line x1="320.8" y1="85.0" x2="330.8" y2="85.0" stroke="#222"/><polygon points="321.8,85.0 323.8,83.5 323.8,86.5" fill="#222"/><polygon points="329.8,85.0 327.8,83.5 327.8,86.5" fill="#222"/>
<line x1="340.3" y1="79" x2="340.3" y2="95" stroke="#a8a8a8"/><line x1="341.3" y1="79" x2="341.3" y2="95" stroke="#fff"/>
<rect x="347" y="82.0" width="8" height="7" fill="none" stroke="#444" stroke-width="1.2"/><line x1="345" y1="84.0" x2="357" y2="84.0" stroke="#888"/><line x1="348" y1="91.0" x2="356" y2="91.0" stroke="#888"/>
<line x1="363.6" y1="91.5" x2="374.6" y2="81.5" stroke="#d02020" stroke-width="1"/><line x1="363.6" y1="91.5" x2="374.6" y2="84.5" stroke="#d02020" stroke-width="1"/><line x1="363.6" y1="91.5" x2="373.6" y2="88.5" stroke="#d02020" stroke-width="1"/><line x1="363.6" y1="91.5" x2="370.6" y2="81.0" stroke="#d02020" stroke-width="1"/><line x1="363.6" y1="91.5" x2="367.6" y2="81.0" stroke="#d02020" stroke-width="1"/>
<rect x="379.3" y="81.0" width="11.5" height="11.5" fill="#f0e0e8" stroke="#333" stroke-width="1.1"/><line x1="379.8" y1="91.5" x2="390.8" y2="81.5" stroke="#d02020" stroke-width="1"/><line x1="379.8" y1="91.5" x2="390.8" y2="84.5" stroke="#d02020" stroke-width="1"/><line x1="379.8" y1="91.5" x2="389.8" y2="88.5" stroke="#d02020" stroke-width="1"/><line x1="379.8" y1="91.5" x2="386.8" y2="81.0" stroke="#d02020" stroke-width="1"/><line x1="379.8" y1="91.5" x2="383.8" y2="81.0" stroke="#d02020" stroke-width="1"/>
<rect x="396.9" y="81.0" width="11.5" height="11.5" fill="#f8e0e8" stroke="#502030" stroke-width="1.1"/><line x1="397.4" y1="91.5" x2="408.4" y2="81.5" stroke="#d05050" stroke-width="1"/><line x1="397.4" y1="91.5" x2="408.4" y2="84.5" stroke="#d05050" stroke-width="1"/><line x1="397.4" y1="91.5" x2="407.4" y2="88.5" stroke="#d05050" stroke-width="1"/><line x1="397.4" y1="91.5" x2="404.4" y2="81.0" stroke="#d05050" stroke-width="1"/><line x1="397.4" y1="91.5" x2="401.4" y2="81.0" stroke="#d05050" stroke-width="1"/>
<line x1="415.2" y1="91.5" x2="426.2" y2="81.5" stroke="#222" stroke-width="1"/><line x1="415.2" y1="91.5" x2="426.2" y2="84.5" stroke="#222" stroke-width="1"/><line x1="415.2" y1="91.5" x2="425.2" y2="88.5" stroke="#222" stroke-width="1"/><line x1="415.2" y1="91.5" x2="422.2" y2="81.0" stroke="#222" stroke-width="1"/><line x1="415.2" y1="91.5" x2="419.2" y2="81.0" stroke="#222" stroke-width="1"/>
<polyline points="430.8,81.5 434.8,91.5 438.8,84.5 442.8,90.5" fill="none" stroke="#333" stroke-width="1"/>
<rect x="448.5" y="81.0" width="11.5" height="11.5" fill="#f0e4e0" stroke="#907070"/><line x1="451.4" y1="81.0" x2="451.4" y2="92.5" stroke="#907070" stroke-width=".7"/><line x1="448.5" y1="83.9" x2="460" y2="83.9" stroke="#c06060" stroke-width=".7"/><line x1="454.3" y1="81.0" x2="454.3" y2="92.5" stroke="#907070" stroke-width=".7"/><line x1="448.5" y1="86.8" x2="460" y2="86.8" stroke="#c06060" stroke-width=".7"/><line x1="457.2" y1="81.0" x2="457.2" y2="92.5" stroke="#907070" stroke-width=".7"/><line x1="448.5" y1="89.7" x2="460" y2="89.7" stroke="#c06060" stroke-width=".7"/>
<rect x="466.2" y="81.0" width="11.5" height="11.5" fill="#e8d8d8" stroke="#333"/><line x1="469.1" y1="81.0" x2="469.1" y2="92.5" stroke="#333" stroke-width=".7"/><line x1="466.2" y1="83.9" x2="477.7" y2="83.9" stroke="#c06060" stroke-width=".7"/><line x1="472.0" y1="81.0" x2="472.0" y2="92.5" stroke="#333" stroke-width=".7"/><line x1="466.2" y1="86.8" x2="477.7" y2="86.8" stroke="#c06060" stroke-width=".7"/><line x1="474.9" y1="81.0" x2="474.9" y2="92.5" stroke="#333" stroke-width=".7"/><line x1="466.2" y1="89.7" x2="477.7" y2="89.7" stroke="#c06060" stroke-width=".7"/>
<line x1="483" y1="87.5" x2="495" y2="80.5" stroke="#333" stroke-width="1"/><line x1="483" y1="90.0" x2="495" y2="83.0" stroke="#333" stroke-width="1"/><line x1="483" y1="92.5" x2="495" y2="85.5" stroke="#333" stroke-width="1"/>
<line x1="499.0" y1="79" x2="499.0" y2="95" stroke="#a8a8a8"/><line x1="500.0" y1="79" x2="500.0" y2="95" stroke="#fff"/>
<line x1="503.8" y1="79" x2="503.8" y2="95" stroke="#a8a8a8"/><line x1="504.8" y1="79" x2="504.8" y2="95" stroke="#fff"/>
<line x1="510.7" y1="81.0" x2="510.7" y2="92.0" stroke="#222" stroke-width="1.5"/><line x1="510.7" y1="81.7" x2="518.7" y2="81.7" stroke="#222" stroke-width="1.3"/><line x1="510.7" y1="84.9" x2="515.7" y2="84.9" stroke="#222" stroke-width="1.3"/><line x1="510.7" y1="88.1" x2="518.7" y2="88.1" stroke="#222" stroke-width="1.3"/><line x1="510.7" y1="91.3" x2="515.7" y2="91.3" stroke="#222" stroke-width="1.3"/>
<line x1="526.2" y1="91.5" x2="537.2" y2="81.5" stroke="#c02020" stroke-width="1"/><line x1="526.2" y1="91.5" x2="538.2" y2="91.5" stroke="#c02020" stroke-width="1"/><line x1="528.2" y1="89.5" x2="538.2" y2="89.5" stroke="#c02020" stroke-width=".8"/><text x="529.7" y="89.0" font-size="8" fill="#d02020" font-weight="bold" font-family='"Noto Sans CJK SC",sans-serif' text-anchor="middle">%</text>
<text x="548.7" y="91.0" font-size="11" fill="#222" font-weight="normal" font-family='"Liberation Sans",sans-serif' text-anchor="middle">%</text>
<line x1="565" y1="81.5" x2="573" y2="81.5" stroke="#444" stroke-width="1.1"/><line x1="565" y1="85.0" x2="573" y2="85.0" stroke="#444" stroke-width="1.1"/><line x1="565" y1="88.5" x2="573" y2="88.5" stroke="#444" stroke-width="1.1"/><line x1="565" y1="92.0" x2="573" y2="92.0" stroke="#444" stroke-width="1.1"/><text x="564.5" y="91.0" font-size="8.5" fill="#d02020" font-weight="bold" font-family='"Noto Sans CJK SC",sans-serif' text-anchor="middle">%</text>
<circle cx="583.7" cy="87" r="6.2" fill="#f8f4d8" stroke="#8a8a20"/><text x="583.7" y="90" font-size="7.5" fill="#8a8a20" font-weight="bold" font-family='"Noto Sans CJK SC",sans-serif' text-anchor="middle">金</text>
<line x1="599.2" y1="81.5" x2="607.2" y2="81.5" stroke="#333" stroke-width="1.1"/><line x1="599.2" y1="85.0" x2="607.2" y2="85.0" stroke="#333" stroke-width="1.1"/><line x1="599.2" y1="88.5" x2="607.2" y2="88.5" stroke="#333" stroke-width="1.1"/><line x1="599.2" y1="92.0" x2="607.2" y2="92.0" stroke="#333" stroke-width="1.1"/><text x="598.7" y="91.0" font-size="8.5" fill="#a0a020" font-weight="bold" font-family='"Noto Sans CJK SC",sans-serif' text-anchor="middle">金</text>
<rect x="611.5" y="81" width="2.5" height="11" fill="#222"/><polygon points="615,91 619,81 624,84 621,92" fill="#c02020"/><polygon points="615,91 621,86 624,90" fill="#222"/>
<line x1="629.6" y1="83.5" x2="642.6" y2="83.5" stroke="#d02020" stroke-width="1"/><line x1="630.6" y1="81.5" x2="630.6" y2="85.5" stroke="#d02020" stroke-width=".9"/><line x1="633.4" y1="81.5" x2="633.4" y2="85.5" stroke="#d02020" stroke-width=".9"/><line x1="636.1" y1="81.5" x2="636.1" y2="85.5" stroke="#d02020" stroke-width=".9"/><line x1="638.9" y1="81.5" x2="638.9" y2="85.5" stroke="#d02020" stroke-width=".9"/><line x1="641.6" y1="81.5" x2="641.6" y2="85.5" stroke="#d02020" stroke-width=".9"/><text x="636" y="92.5" font-size="8.5" fill="#e06060" font-weight="normal" font-family='"Noto Sans CJK SC",sans-serif' text-anchor="middle">卒</text>
<text x="652.8" y="90.0" font-size="9.5" fill="#e04040" font-weight="normal" font-family='"Noto Sans CJK SC",sans-serif' text-anchor="middle">金</text><line x1="646.5" y1="92.5" x2="659" y2="92.5" stroke="#d04040" stroke-width="1.2"/>
<line x1="664.8" y1="91.5" x2="675.8" y2="81.5" stroke="#333" stroke-width="1"/><line x1="664.8" y1="91.5" x2="676.8" y2="91.5" stroke="#333" stroke-width="1"/><line x1="666.8" y1="89.5" x2="676.8" y2="89.5" stroke="#333" stroke-width=".8"/><text x="668.3" y="89.0" font-size="8" fill="#d02020" font-weight="bold" font-family='"Noto Sans CJK SC",sans-serif' text-anchor="middle">J</text>
<line x1="681.8" y1="91.5" x2="692.8" y2="81.5" stroke="#333" stroke-width="1"/><line x1="681.8" y1="91.5" x2="693.8" y2="91.5" stroke="#333" stroke-width="1"/><line x1="683.8" y1="89.5" x2="693.8" y2="89.5" stroke="#333" stroke-width=".8"/><text x="685.3" y="89.0" font-size="8" fill="#d02020" font-weight="bold" font-family='"Noto Sans CJK SC",sans-serif' text-anchor="middle">F</text>
<line x1="699" y1="91.5" x2="710" y2="81.5" stroke="#333" stroke-width="1"/><line x1="699" y1="91.5" x2="711" y2="91.5" stroke="#333" stroke-width="1"/><line x1="701" y1="89.5" x2="711" y2="89.5" stroke="#333" stroke-width=".8"/><text x="702.5" y="89.0" font-size="8" fill="#a0a020" font-weight="bold" font-family='"Noto Sans CJK SC",sans-serif' text-anchor="middle">金</text>
<line x1="716" y1="91.5" x2="727" y2="81.5" stroke="#333" stroke-width="1"/><line x1="716" y1="91.5" x2="728" y2="91.5" stroke="#333" stroke-width="1"/><line x1="718" y1="89.5" x2="728" y2="89.5" stroke="#333" stroke-width=".8"/><text x="719.5" y="89.0" font-size="8" fill="#d02020" font-weight="bold" font-family='"Noto Sans CJK SC",sans-serif' text-anchor="middle">徒</text>
<text x="738.8" y="91.0" font-size="10" fill="#d02020" font-weight="bold" font-family='"Noto Sans CJK SC",sans-serif' text-anchor="middle">趣</text><line x1="732" y1="92.5" x2="745.5" y2="92.5" stroke="#555" stroke-width="1"/>
<line x1="750.3" y1="91.5" x2="761.3" y2="81.5" stroke="#333" stroke-width="1"/><line x1="750.3" y1="91.5" x2="762.3" y2="91.5" stroke="#333" stroke-width="1"/><line x1="752.3" y1="89.5" x2="762.3" y2="89.5" stroke="#333" stroke-width=".8"/><text x="753.8" y="89.0" font-size="8" fill="#d02020" font-weight="bold" font-family='"Noto Sans CJK SC",sans-serif' text-anchor="middle">四</text>
<line x1="770.0" y1="79" x2="770.0" y2="95" stroke="#a8a8a8"/><line x1="771.0" y1="79" x2="771.0" y2="95" stroke="#fff"/>
<circle cx="781.5" cy="87.2" r="6.3" fill="#e02030"/><path d="M781.5,80.9 A6.3,6.3 0 0 1 781.5,93.5 A3.15,3.15 0 0 1 781.5,87.2 A3.15,3.15 0 0 0 781.5,80.9Z" fill="#5070e0"/><circle cx="781.5" cy="84.10000000000001" r="1" fill="#fff"/><circle cx="781.5" cy="90.3" r="1" fill="#fff"/>
<path d="M799.4,87.0 C796.4,83.0 793.4,84.0 793.4,87.0 C793.4,90.0 796.4,91.0 799.4,87.0 C802.4,83.0 805.4,84.0 805.4,87.0 C805.4,90.0 802.4,91.0 799.4,87.0Z" fill="none" stroke="#3c6ae0" stroke-width="2"/>
<line x1="830.5" y1="108" x2="830.5" y2="513" stroke="#333" stroke-width="1" stroke-dasharray="2 2.5"/>
<polygon points="826.8,117.6 833.6,117.6 830.2,122" fill="#111"/>
<polyline points="63.3,240.4 75.3,243 75.6,244.6" fill="none" stroke="#4848c0" stroke-width="0.9"/>
<polyline points="864.6,378.2 875.5,378.9" fill="none" stroke="#4848c0" stroke-width="0.9"/>
<polyline points="864.6,383 878.2,380.3" fill="none" stroke="#4848c0" stroke-width="0.9"/>
<text x="61.4" y="452.6" font-size="9.5" fill="#d83040" font-family="Liberation Sans" text-anchor="middle">$</text>
<path d="M1024,396.2 H1017.8 A11.7,11.7 0 0 0 1017.8,419.6 H1024 Z" fill="#3a86e8"/>
<polyline points="1018.3,404.2 1014.6,408.4 1018.3,412.8" fill="none" stroke="#fff" stroke-width="1.6"/>
<rect x="3.5" y="518.8" width="12" height="9" fill="#f4f4f8" stroke="#1c2448"/><rect x="4" y="519.3" width="11" height="2" fill="#2a3a98"/><line x1="4" y1="523.4" x2="15" y2="523.4" stroke="#7a7a8a" stroke-width=".8"/><line x1="4" y1="525.5" x2="15" y2="525.5" stroke="#7a7a8a" stroke-width=".8"/><line x1="6.2" y1="521.3" x2="6.2" y2="527.3" stroke="#7a7a8a" stroke-width=".8"/><line x1="8.4" y1="521.3" x2="8.4" y2="527.3" stroke="#7a7a8a" stroke-width=".8"/><line x1="10.6" y1="521.3" x2="10.6" y2="527.3" stroke="#7a7a8a" stroke-width=".8"/><line x1="12.8" y1="521.3" x2="12.8" y2="527.3" stroke="#7a7a8a" stroke-width=".8"/>
<circle cx="22.8" cy="522.4" r="6" fill="#e41a1a"/><text x="22.8" y="525.6" font-size="8" fill="#ffe070" font-weight="bold" font-family='"Noto Sans CJK SC",sans-serif' text-anchor="middle">沪</text>
<circle cx="197.1" cy="522.8" r="6" fill="#e41a1a"/><text x="197.1" y="526" font-size="8" fill="#ffe070" font-weight="bold" font-family='"Noto Sans CJK SC",sans-serif' text-anchor="middle">深</text>
<path d="M916.5,519 V528.5 M913.5,528.5 L916.5,521 L919.5,528.5 M914.5,525.5 H918.5" stroke="#2040a0" stroke-width="1.1" fill="none"/><circle cx="916.5" cy="518.5" r="1.6" fill="#d02020"/><path d="M912.5,516.5 Q911,518.5 912.5,520.5 M920.5,516.5 Q922,518.5 920.5,520.5" stroke="#d02020" stroke-width=".8" fill="none"/>
<rect x="0" y="500" width="18.6" height="12" fill="#f0f0f0"/><path d="M18.2,500 V512 H0" fill="none" stroke="#666" stroke-width="1"/>
<polygon points="9.7,503.4 6.6,508.6 12.9,508.6" fill="none" stroke="#333" stroke-width="0.9"/>
<rect x="1005.7" y="500.3" width="16.8" height="11.5" fill="#f0f0f0"/><path d="M1022.3,500.3 V511.8 H1005.7" fill="none" stroke="#777" stroke-width="1"/>
<path d="M1011.8,506.2 H1017.8 M1015.6,504.6 L1017.8,506.2 L1015.6,507.8" stroke="#222" stroke-width="1" fill="none"/>
<line x1="1023.5" y1="16" x2="1023.5" y2="532" stroke="#a4a4a4" stroke-width="1"/>
<text x="17.6" y="12.2" font-size="9.3" fill="#222" font-family='"Liberation Sans","Noto Sans CJK SC",sans-serif' font-weight="500" textLength="259.4" lengthAdjust="spacingAndGlyphs" >赢家江恩专业版[赢家服务平台] - [芯源微&#160; SH688037-184日K线]</text>
<text x="19.5" y="31.2" font-size="9" fill="#111" font-family='"Liberation Sans","Noto Sans CJK SC",sans-serif' font-weight="500" >文件</text>
<text x="46.9" y="31.2" font-size="9" fill="#111" font-family='"Liberation Sans","Noto Sans CJK SC",sans-serif' font-weight="500" >浏览</text>
<text x="73.8" y="31.2" font-size="9" fill="#111" font-family='"Liberation Sans","Noto Sans CJK SC",sans-serif' font-weight="500" >资讯</text>
<text x="100.6" y="31.2" font-size="9" fill="#111" font-family='"Liberation Sans","Noto Sans CJK SC",sans-serif' font-weight="500" >江恩</text>
<text x="128" y="31.2" font-size="9" fill="#111" font-family='"Liberation Sans","Noto Sans CJK SC",sans-serif' font-weight="500" >公式选股</text>
<text x="173.8" y="31.2" font-size="9" fill="#111" font-family='"Liberation Sans","Noto Sans CJK SC",sans-serif' font-weight="500" >设置</text>
<text x="200" y="31.2" font-size="9" fill="#111" font-family='"Liberation Sans","Noto Sans CJK SC",sans-serif' font-weight="500" >工具</text>
<text x="227.5" y="31.2" font-size="9" fill="#111" font-family='"Liberation Sans","Noto Sans CJK SC",sans-serif' font-weight="500" >窗口</text>
<text x="253.5" y="31.2" font-size="9" fill="#111" font-family='"Liberation Sans","Noto Sans CJK SC",sans-serif' font-weight="500" >交易委托</text>
<text x="299.8" y="31.2" font-size="9" fill="#111" font-family='"Liberation Sans","Noto Sans CJK SC",sans-serif' font-weight="500" >帮助</text>
<text x="23.4" y="52" font-size="9" fill="#222" font-family='"Liberation Sans","Noto Sans CJK SC",sans-serif' font-weight="500" >行情</text>
<text x="63.3" y="52" font-size="9" fill="#222" font-family='"Liberation Sans","Noto Sans CJK SC",sans-serif' font-weight="500" >板块</text>
<text x="103.9" y="52" font-size="9" fill="#222" font-family='"Liberation Sans","Noto Sans CJK SC",sans-serif' font-weight="500" >K线</text>
<text x="140.6" y="52" font-size="9" fill="#222" font-family='"Liberation Sans","Noto Sans CJK SC",sans-serif' font-weight="500" >P四方形</text>
<text x="195" y="52" font-size="9" fill="#222" font-family='"Liberation Sans","Noto Sans CJK SC",sans-serif' font-weight="500" >9P四方形</text>
<text x="253.5" y="52" font-size="9" fill="#222" font-family='"Liberation Sans","Noto Sans CJK SC",sans-serif' font-weight="500" >P数字表</text>
<text x="308.2" y="52" font-size="9" fill="#222" font-family='"Liberation Sans","Noto Sans CJK SC",sans-serif' font-weight="500" >T四方形</text>
<text x="362.5" y="52" font-size="9" fill="#222" font-family='"Liberation Sans","Noto Sans CJK SC",sans-serif' font-weight="500" >9T四方形</text>
<text x="421" y="52" font-size="9" fill="#222" font-family='"Liberation Sans","Noto Sans CJK SC",sans-serif' font-weight="500" >T数字表</text>
<text x="475.7" y="52" font-size="9" fill="#222" font-family='"Liberation Sans","Noto Sans CJK SC",sans-serif' font-weight="500" >江恩轮</text>
<text x="525" y="52" font-size="9" fill="#222" font-family='"Liberation Sans","Noto Sans CJK SC",sans-serif' font-weight="500" >赢家轮</text>
<text x="573.8" y="52" font-size="9" fill="#222" font-family='"Liberation Sans","Noto Sans CJK SC",sans-serif' font-weight="500" >六角形</text>
<text x="622.7" y="52" font-size="9" fill="#222" font-family='"Liberation Sans","Noto Sans CJK SC",sans-serif' font-weight="500" >赢家服务</text>
<text x="8.9" y="71" font-size="10" fill="#000" font-family='"Noto Sans CJK SC",sans-serif' font-weight="bold" >日</text>
<text x="3.2" y="110.6" font-size="9" fill="#2b2ba6" font-family='"Liberation Sans","Noto Sans CJK SC",sans-serif' font-weight="normal" textLength="23.5" lengthAdjust="spacingAndGlyphs" >日K线</text>
<text x="53.6" y="105.5" font-size="7.5" fill="#a4a4a4" font-family='"Liberation Sans","Noto Sans CJK SC",sans-serif' font-weight="normal" textLength="15.8" lengthAdjust="spacingAndGlyphs" >06-14</text>
<text x="97.5" y="105.5" font-size="7.5" fill="#a4a4a4" font-family='"Liberation Sans","Noto Sans CJK SC",sans-serif' font-weight="normal" textLength="16.1" lengthAdjust="spacingAndGlyphs" >06-30</text>
<text x="151.1" y="105.5" font-size="7.5" fill="#a4a4a4" font-family='"Liberation Sans","Noto Sans CJK SC",sans-serif' font-weight="normal" textLength="15.0" lengthAdjust="spacingAndGlyphs" >07-14</text>
<text x="204.2" y="105.5" font-size="7.5" fill="#a4a4a4" font-family='"Liberation Sans","Noto Sans CJK SC",sans-serif' font-weight="normal" textLength="15.8" lengthAdjust="spacingAndGlyphs" >07-28</text>
<text x="256" y="105.5" font-size="7.5" fill="#a4a4a4" font-family='"Liberation Sans","Noto Sans CJK SC",sans-serif' font-weight="normal" textLength="15" lengthAdjust="spacingAndGlyphs" >08-11</text>
<text x="309" y="105.5" font-size="7.5" fill="#a4a4a4" font-family='"Liberation Sans","Noto Sans CJK SC",sans-serif' font-weight="normal" textLength="16" lengthAdjust="spacingAndGlyphs" >08-25</text>
<text x="361.5" y="105.5" font-size="7.5" fill="#a4a4a4" font-family='"Liberation Sans","Noto Sans CJK SC",sans-serif' font-weight="normal" textLength="16.0" lengthAdjust="spacingAndGlyphs" >09-08</text>
<text x="414" y="105.5" font-size="7.5" fill="#a4a4a4" font-family='"Liberation Sans","Noto Sans CJK SC",sans-serif' font-weight="normal" textLength="16" lengthAdjust="spacingAndGlyphs" >09-22</text>
<text x="465.5" y="105.5" font-size="7.5" fill="#a4a4a4" font-family='"Liberation Sans","Noto Sans CJK SC",sans-serif' font-weight="normal" textLength="14.0" lengthAdjust="spacingAndGlyphs" >10-16</text>
<text x="519.5" y="105.5" font-size="7.5" fill="#a4a4a4" font-family='"Liberation Sans","Noto Sans CJK SC",sans-serif' font-weight="normal" textLength="15.5" lengthAdjust="spacingAndGlyphs" >10-30</text>
<text x="572" y="105.5" font-size="7.5" fill="#a4a4a4" font-family='"Liberation Sans","Noto Sans CJK SC",sans-serif' font-weight="normal" textLength="13.8" lengthAdjust="spacingAndGlyphs" >11-13</text>
<text x="624.5" y="105.5" font-size="7.5" fill="#a4a4a4" font-family='"Liberation Sans","Noto Sans CJK SC",sans-serif' font-weight="normal" textLength="13.8" lengthAdjust="spacingAndGlyphs" >11-27</text>
<text x="675.8" y="105.5" font-size="7.5" fill="#a4a4a4" font-family='"Liberation Sans","Noto Sans CJK SC",sans-serif' font-weight="normal" textLength="13.7" lengthAdjust="spacingAndGlyphs" >12-11</text>
<text x="728.3" y="105.5" font-size="7.5" fill="#a4a4a4" font-family='"Liberation Sans","Noto Sans CJK SC",sans-serif' font-weight="normal" textLength="15.7" lengthAdjust="spacingAndGlyphs" >12-25</text>
<text x="783.4" y="105.5" font-size="7.5" fill="#a4a4a4" font-family='"Liberation Sans","Noto Sans CJK SC",sans-serif' font-weight="normal" textLength="15.6" lengthAdjust="spacingAndGlyphs" >01-09</text>
<text x="888.8" y="105.5" font-size="7.5" fill="#a4a4a4" font-family='"Liberation Sans","Noto Sans CJK SC",sans-serif' font-weight="normal" textLength="16.2" lengthAdjust="spacingAndGlyphs" >02-06</text>
<text x="941.8" y="105.5" font-size="7.5" fill="#a4a4a4" font-family='"Liberation Sans","Noto Sans CJK SC",sans-serif' font-weight="normal" textLength="16.2" lengthAdjust="spacingAndGlyphs" >02-20</text>
<text x="994.3" y="105.5" font-size="7.5" fill="#a4a4a4" font-family='"Liberation Sans","Noto Sans CJK SC",sans-serif' font-weight="normal" textLength="16.2" lengthAdjust="spacingAndGlyphs" >03-05</text>
<rect x="808.4" y="97.9" width="42.6" height="9" fill="#e41c1c"/>
<text x="809.7" y="106.2" font-size="9.5" fill="#fff" font-family='"Liberation Sans","Noto Sans CJK SC",sans-serif' font-weight="normal" textLength="40.6" lengthAdjust="spacingAndGlyphs" >2024-01-18</text>
<text x="53.6" y="117" font-size="9.7" fill="#111" font-family='"Liberation Sans","Noto Sans CJK SC",sans-serif' font-weight="normal" textLength="38.7" lengthAdjust="spacingAndGlyphs" >极反通道</text>
<text x="105.4" y="116.7" font-size="9.6" fill="#cc3030" font-family='"Liberation Sans","Noto Sans CJK SC",sans-serif' font-weight="normal" textLength="48.9" lengthAdjust="spacingAndGlyphs" >Tp=178.8560</text>
<text x="164.3" y="116.7" font-size="9.6" fill="#3030a8" font-family='"Liberation Sans","Noto Sans CJK SC",sans-serif' font-weight="normal" textLength="50.3" lengthAdjust="spacingAndGlyphs" >Up=160.5268</text>
<text x="224.8" y="116.7" font-size="9.6" fill="#111" font-family='"Liberation Sans","Noto Sans CJK SC",sans-serif' font-weight="normal" textLength="48.7" lengthAdjust="spacingAndGlyphs" >Md=139.4547</text>
<text x="283.8" y="116.7" font-size="9.6" fill="#3030a8" font-family='"Liberation Sans","Noto Sans CJK SC",sans-serif' font-weight="normal" textLength="49.3" lengthAdjust="spacingAndGlyphs" >Dn=111.8004</text>
<text x="343.2" y="116.7" font-size="9.6" fill="#cc3030" font-family='"Liberation Sans","Noto Sans CJK SC",sans-serif' font-weight="normal" textLength="42.2" lengthAdjust="spacingAndGlyphs" >Bt=86.4694</text>
<text x="957.2" y="116.8" font-size="9.8" fill="#2a2aa0" font-family='"Liberation Sans",sans-serif' font-weight="normal" textLength="30.8" lengthAdjust="spacingAndGlyphs" stroke="#2a2aa0" stroke-width="0.35">688037</text>
<text x="994.4" y="117.4" font-size="10" fill="#22229a" font-family='"Noto Sans CJK SC",sans-serif' font-weight="500" >芯源微</text>
<rect x="1.5" y="189.3" width="52" height="8.2" fill="#f40a0a" stroke="#9a1010" stroke-width="1"/>
<text x="1.8" y="196.8" font-size="9" fill="#ffe0e0" font-family='"Liberation Sans","Noto Sans CJK SC",sans-serif' font-weight="normal" textLength="33" lengthAdjust="spacingAndGlyphs" >230.1910</text>
<text x="19.9" y="452" font-size="8.3" fill="#3a3a3a" font-family='"Liberation Sans",sans-serif' font-weight="normal" textLength="31.8" lengthAdjust="spacingAndGlyphs" >53. 4966</text>
<text x="29.2" y="473.2" font-size="8.3" fill="#3a3a3a" font-family='"Liberation Sans",sans-serif' font-weight="normal" textLength="22.4" lengthAdjust="spacingAndGlyphs" >50382</text>
<text x="29.2" y="487.9" font-size="8.3" fill="#3a3a3a" font-family='"Liberation Sans",sans-serif' font-weight="normal" textLength="22.4" lengthAdjust="spacingAndGlyphs" >33588</text>
<text x="29.2" y="501.8" font-size="8.3" fill="#3a3a3a" font-family='"Liberation Sans",sans-serif' font-weight="normal" textLength="22.4" lengthAdjust="spacingAndGlyphs" >16794</text>
<text x="76.9" y="252" font-size="8.4" fill="#3c3cb4" font-family='"Liberation Sans",sans-serif' font-weight="normal" textLength="38.4" lengthAdjust="spacingAndGlyphs" >198.5000</text>
<text x="878.6" y="381.7" font-size="8.4" fill="#3c3cb4" font-family='"Liberation Sans",sans-serif' font-weight="normal" textLength="37.9" lengthAdjust="spacingAndGlyphs" >100.5000</text>
<text x="31.8" y="526.3" font-size="8.6" fill="#d84858" font-family='"DejaVu Sans",sans-serif' font-weight="normal" textLength="140.1" lengthAdjust="spacingAndGlyphs" >2910.22 ▲4.11 0.14% 4024.00<tspan fill="#444" font-family="Noto Sans CJK SC" font-size="10.5">亿</tspan></text>
<text x="206" y="526.3" font-size="8.6" fill="#3c9a3c" font-family='"DejaVu Sans",sans-serif' font-weight="normal" textLength="145" lengthAdjust="spacingAndGlyphs" >8762.33 <tspan fill="#1a7a1a">▼</tspan>-93.89 -1.06% 4262.93</text>
<text x="352.7" y="526.5" font-size="10" fill="#d05860" font-family='"Liberation Sans","Noto Sans CJK SC",sans-serif' font-weight="normal" textLength="88.8" lengthAdjust="spacingAndGlyphs" >同比增长19.6%，美</text>
<rect x="455.5" y="518.3" width="25.4" height="10" fill="#f07878"/>
<text x="456.3" y="526.3" font-size="9.5" fill="#fff" font-family='"Liberation Sans","Noto Sans CJK SC",sans-serif' font-weight="normal" textLength="24" lengthAdjust="spacingAndGlyphs" >14:48</text>
<text x="486" y="526.5" font-size="10" fill="#d05860" font-family='"Liberation Sans","Noto Sans CJK SC",sans-serif' font-weight="normal" textLength="234.6" lengthAdjust="spacingAndGlyphs" >小米汽车北京首家2S店落地博瑞汽车园东风日产店</text>
<rect x="732" y="518.3" width="28" height="10" fill="#f07878"/>
<text x="733.2" y="526.3" font-size="9.5" fill="#fff" font-family='"Liberation Sans","Noto Sans CJK SC",sans-serif' font-weight="normal" textLength="25.3" lengthAdjust="spacingAndGlyphs" >14:43</text>
<text x="763.3" y="526.5" font-size="10" fill="#d05860" font-family='"Liberation Sans","Noto Sans CJK SC",sans-serif' font-weight="normal" textLength="143" lengthAdjust="spacingAndGlyphs" >阿富汗坠毁客机飞行员：飞机：</text>
<text x="924.5" y="526.5" font-size="10" fill="#222" font-family='"Liberation Sans","Noto Sans CJK SC",sans-serif' font-weight="normal" textLength="64" lengthAdjust="spacingAndGlyphs" >收688037日线</text>
<text y="549.3" font-size="13" fill="#000" font-family='"Noto Sans CJK SC",sans-serif' x="94.2 107.2 120.2 133.2 146.2 159.2 172.2 181.6 198.2 211.2 224.2 237.2 250.2 263.2 276.2 289.2 302.2 315.2 328.2 341.2 354.2 367.2 380.2 393.2 406.2 419.2 432.2 445.2 458.2 471.2 485.2 497.2 506.6 523.2 536.2 549.2 562.2 575.2 588.2 601.2 614.2 627.2 640.2 653.2 666.2 679.2 692.2 706.2 718.2 727.6 744.2 757.2 770.2 783.2 796.2 809.2 822.2 835.2 848.2 861.2 874.2 888.2 900.2">江恩经典语录：“图表能反映出一切股市或公司股民的总体心理状况”，“不要一次性买进，傲慢就是罪过”，“调整只会让股市更加健康”。</text>
</svg>
</body></html>
